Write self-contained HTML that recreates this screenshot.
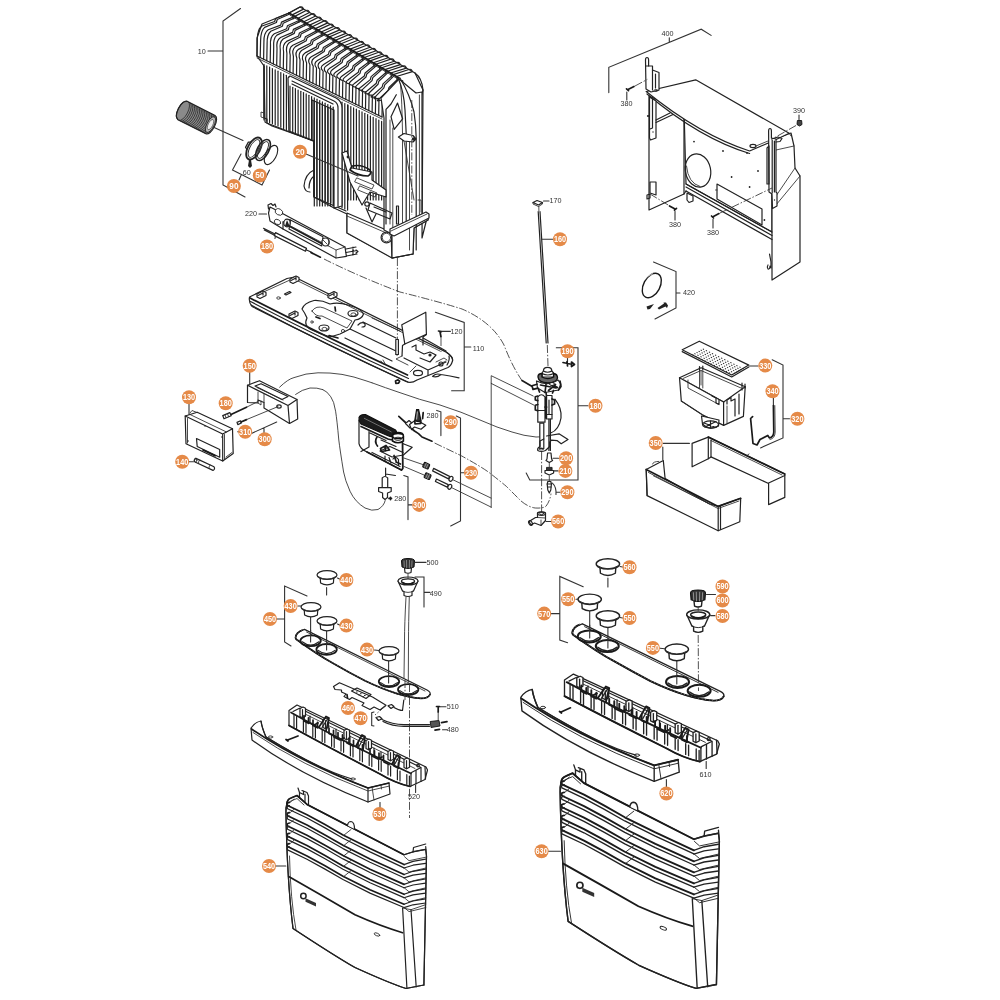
<!DOCTYPE html>
<html><head><meta charset="utf-8"><title>Exploded diagram</title>
<style>
html,body{margin:0;padding:0;background:#fff;}
body{width:1000px;height:1000px;overflow:hidden;font-family:"Liberation Sans",sans-serif;}
svg{display:block;filter:blur(0.3px)}
.l{fill:none;stroke:#222;stroke-width:1.2;stroke-linecap:round;stroke-linejoin:round}
.t{fill:none;stroke:#2a2a2a;stroke-width:0.85;stroke-linecap:round;stroke-linejoin:round}
.h{fill:none;stroke:#555;stroke-width:0.5;stroke-linecap:round;stroke-linejoin:round}
.k{fill:none;stroke:#1a1a1a;stroke-width:1.7;stroke-linecap:round;stroke-linejoin:round}
.w{fill:#fff;stroke:#222;stroke-width:1.2;stroke-linecap:round;stroke-linejoin:round}
.wt{fill:#fff;stroke:#2a2a2a;stroke-width:0.85;stroke-linecap:round;stroke-linejoin:round}
.d{fill:none;stroke:#333;stroke-width:0.85;stroke-dasharray:8 1.8 1.5 1.8}
.c{fill:none;stroke:#333;stroke-width:1.1;stroke-linecap:round}
.b{fill:#e58a48}
.bt{fill:#fff;font-family:"Liberation Sans",sans-serif;font-size:9px;text-anchor:middle;font-weight:bold}
.n{fill:#333;font-family:"Liberation Sans",sans-serif;font-size:7.2px;text-anchor:middle}
.f{fill:#222;stroke:none}
.g{fill:#888;stroke:none}
</style></head><body>
<svg width="1000" height="1000" viewBox="0 0 1000 1000">
<rect width="1000" height="1000" fill="#fff"/>
<!-- p_10_heat -->
<path class="w" d="M257.0 56.0 L257.0 38.0 L262.0 24.0 L289.0 13.0 L300.0 7.0 L415.0 73.0 L423.0 90.0 L422.0 238.0 L428.0 214.0 L428.0 220.0 L414.0 228.0 L413.0 254.0 L393.0 258.0 L347.0 233.0 L347.0 214.0 L334.0 208.0 L314.0 197.0 L314.0 141.0 L272.0 126.0 L265.0 122.0 L264.0 66.0 Z"/>
<path class="l" d="M289.0 13.0 L300.0 7.0 Q302.5 6.0 303.5 9.1 L292.2 14.9"/>
<path class="l" d="M294.8 16.4 L306.1 10.5 Q308.6 9.5 309.5 12.5 L298.0 18.3"/>
<path class="l" d="M300.6 19.8 L312.1 13.9 Q314.6 12.9 315.6 16.0 L303.8 21.7"/>
<path class="l" d="M306.4 23.3 L318.2 17.4 Q320.7 16.4 321.6 19.5 L309.6 25.1"/>
<path class="l" d="M312.2 26.7 L324.2 20.9 Q326.7 19.9 327.7 22.9 L315.3 28.6"/>
<path class="l" d="M317.9 30.1 L330.3 24.4 Q332.8 23.4 333.7 26.4 L321.1 32.0"/>
<path class="l" d="M323.7 33.5 L336.3 27.8 Q338.8 26.8 339.8 29.9 L326.9 35.4"/>
<path class="l" d="M329.5 36.9 L342.4 31.3 Q344.9 30.3 345.8 33.4 L332.7 38.8"/>
<path class="l" d="M335.3 40.4 L348.4 34.8 Q350.9 33.8 351.9 36.8 L338.5 42.2"/>
<path class="l" d="M341.1 43.8 L354.5 38.3 Q357.0 37.3 357.9 40.3 L344.3 45.7"/>
<path class="l" d="M346.9 47.2 L360.5 41.7 Q363.0 40.7 364.0 43.8 L350.1 49.1"/>
<path class="l" d="M352.7 50.6 L366.6 45.2 Q369.1 44.2 370.1 47.3 L355.9 52.5"/>
<path class="l" d="M358.5 54.1 L372.6 48.7 Q375.1 47.7 376.1 50.7 L361.7 55.9"/>
<path class="l" d="M364.3 57.5 L378.7 52.2 Q381.2 51.2 382.2 54.2 L367.4 59.4"/>
<path class="l" d="M370.1 60.9 L384.7 55.6 Q387.2 54.6 388.2 57.7 L373.2 62.8"/>
<path class="l" d="M375.8 64.3 L390.8 59.1 Q393.3 58.1 394.3 61.2 L379.0 66.2"/>
<path class="l" d="M381.6 67.7 L396.8 62.6 Q399.3 61.6 400.3 64.6 L384.8 69.6"/>
<path class="l" d="M387.4 71.2 L402.9 66.1 Q405.4 65.1 406.4 68.1 L390.6 73.0"/>
<path class="l" d="M393.2 74.6 L408.9 69.5 Q411.4 68.5 412.4 71.6 L396.4 76.5"/>
<path class="l" d="M415 73 Q422 78 423 90 L421 97 L416 93"/>
<path class="l" d="M289.0 13.0 L275.5 18.5 L274.7 21.5 L262.0 26.0 Q257.5 29.0 257.3 39.0 L257.0 56.0"/>
<path class="l" d="M290.3 13.8 L277.2 19.5 L276.4 22.5 L264.6 27.4 Q260.8 30.6 260.6 40.5 L260.2 57.5"/>
<path class="l" d="M292.6 15.6 l0.5 3.2"/>
<path class="l" d="M294.8 16.4 L281.5 22.1 L280.7 25.1 L268.2 29.8 Q263.7 32.8 263.9 42.2 L263.6 59.2"/>
<path class="l" d="M296.1 17.2 L283.2 23.2 L282.4 26.2 L270.8 31.3 Q266.9 34.5 267.1 43.7 L266.8 60.7"/>
<path class="l" d="M298.4 19.0 l0.5 3.2"/>
<path class="l" d="M300.6 19.8 L287.4 25.8 L286.6 28.8 L274.3 33.7 Q269.8 36.7 270.5 45.4 L270.2 62.4"/>
<path class="l" d="M301.9 20.6 L289.1 26.8 L288.3 29.8 L276.9 35.1 Q273.1 38.3 273.7 46.9 L273.4 63.9"/>
<path class="l" d="M304.2 22.4 l0.5 3.2"/>
<path class="l" d="M306.4 23.3 L293.4 29.4 L292.6 32.4 L280.5 37.5 Q276.0 40.5 277.0 48.6 L276.7 65.6"/>
<path class="l" d="M307.7 24.0 L295.1 30.4 L294.3 33.4 L283.1 39.0 Q279.2 42.2 280.3 50.1 L280.0 67.1"/>
<path class="l" d="M310.0 25.9 l0.5 3.2"/>
<path class="l" d="M312.2 26.7 L299.4 33.0 L298.6 36.0 L286.6 41.4 Q282.1 44.4 283.6 51.8 L283.3 68.8"/>
<path class="l" d="M313.5 27.5 L301.1 34.0 L300.3 37.0 L289.2 42.8 Q285.4 46.0 286.9 53.3 L286.6 70.3"/>
<path class="l" d="M315.8 29.3 l0.5 3.2"/>
<path class="l" d="M317.9 30.1 L305.4 36.7 L304.6 39.7 L292.8 45.2 Q288.3 48.2 290.2 55.1 L289.9 72.1"/>
<path class="l" d="M319.2 30.9 L307.1 37.7 L306.3 40.7 L295.4 46.6 Q291.5 49.8 293.4 56.5 L293.1 73.5"/>
<path class="l" d="M321.5 32.7 l0.5 3.2"/>
<path class="l" d="M323.7 33.5 L311.3 40.3 L310.5 43.3 L298.9 49.1 Q294.4 52.1 296.8 58.3 L296.5 75.3"/>
<path class="l" d="M325.0 34.3 L313.0 41.3 L312.2 44.3 L301.5 50.5 Q297.7 53.7 300.0 59.7 L299.7 76.7"/>
<path class="l" d="M327.3 36.1 l0.5 3.2"/>
<path class="l" d="M329.5 36.9 L317.3 43.9 L316.5 46.9 L305.1 52.9 Q300.6 55.9 303.4 61.5 L303.1 78.5"/>
<path class="l" d="M330.8 37.7 L319.0 44.9 L318.2 47.9 L307.7 54.3 Q303.9 57.5 306.6 62.9 L306.3 79.9"/>
<path class="l" d="M333.1 39.5 l0.5 3.2"/>
<path class="l" d="M335.3 40.4 L323.3 47.6 L322.5 50.6 L311.3 56.7 Q306.8 59.7 309.9 64.7 L309.6 81.7"/>
<path class="l" d="M336.6 41.1 L325.0 48.6 L324.2 51.6 L313.9 58.2 Q310.0 61.4 313.2 66.1 L312.9 83.1"/>
<path class="l" d="M338.9 43.0 l0.5 3.2"/>
<path class="l" d="M341.1 43.8 L329.3 51.2 L328.5 54.2 L317.4 60.6 Q312.9 63.6 316.5 67.9 L316.2 84.9"/>
<path class="l" d="M342.4 44.6 L331.0 52.2 L330.2 55.2 L320.0 62.0 Q316.2 65.2 319.8 69.4 L319.5 86.4"/>
<path class="l" d="M344.7 46.4 l0.5 3.2"/>
<path class="l" d="M346.9 47.2 L335.2 54.8 L334.4 57.8 L323.6 64.4 Q319.1 67.4 323.1 71.1 L322.8 88.1"/>
<path class="l" d="M348.2 48.0 L336.9 55.8 L336.1 58.8 L326.2 65.9 Q322.3 69.0 326.3 72.6 L326.0 89.6"/>
<path class="l" d="M350.5 49.8 l0.5 3.2"/>
<path class="l" d="M352.7 50.6 L341.2 58.4 L340.4 61.4 L329.7 68.3 Q325.2 71.3 329.7 74.3 L329.4 91.3"/>
<path class="l" d="M354.0 51.4 L342.9 59.5 L342.1 62.5 L332.3 69.7 Q328.5 72.9 332.9 75.8 L332.6 92.8"/>
<path class="l" d="M356.3 53.2 l0.5 3.2"/>
<path class="l" d="M358.5 54.1 L347.2 62.1 L346.4 65.1 L335.9 72.1 Q331.4 75.1 336.2 77.5 L335.9 94.5"/>
<path class="l" d="M359.8 54.8 L348.9 63.1 L348.1 66.1 L338.5 73.5 Q334.6 76.7 339.5 79.0 L339.2 96.0"/>
<path class="l" d="M362.1 56.7 l0.5 3.2"/>
<path class="l" d="M364.3 57.5 L353.2 65.7 L352.4 68.7 L342.1 75.9 Q337.6 78.9 342.8 80.7 L342.5 97.7"/>
<path class="l" d="M365.6 58.3 L354.9 66.7 L354.1 69.7 L344.7 77.4 Q340.8 80.6 346.1 82.2 L345.8 99.2"/>
<path class="l" d="M367.9 60.1 l0.5 3.2"/>
<path class="l" d="M370.1 60.9 L359.1 69.3 L358.3 72.3 L348.2 79.8 Q343.7 82.8 349.4 83.9 L349.1 100.9"/>
<path class="l" d="M371.4 61.7 L360.8 70.4 L360.0 73.4 L350.8 81.2 Q347.0 84.4 352.7 85.4 L352.4 102.4"/>
<path class="l" d="M373.7 63.5 l0.5 3.2"/>
<path class="l" d="M375.8 64.3 L365.1 73.0 L364.3 76.0 L354.4 83.6 Q349.9 86.6 356.0 87.2 L355.7 104.2"/>
<path class="l" d="M377.1 65.1 L366.8 74.0 L366.0 77.0 L357.0 85.1 Q353.1 88.3 359.2 88.6 L358.9 105.6"/>
<path class="l" d="M379.4 66.9 l0.5 3.2"/>
<path class="l" d="M381.6 67.7 L371.1 76.6 L370.3 79.6 L360.5 87.5 Q356.0 90.5 362.6 90.4 L362.3 107.4"/>
<path class="l" d="M382.9 68.5 L372.8 77.6 L372.0 80.6 L363.1 88.9 Q359.3 92.1 365.8 91.8 L365.5 108.8"/>
<path class="l" d="M385.2 70.3 l0.5 3.2"/>
<path class="l" d="M387.4 71.2 L377.1 80.2 L376.3 83.2 L366.7 91.3 Q362.2 94.3 369.1 93.6 L368.8 110.6"/>
<path class="l" d="M388.7 71.9 L378.8 81.3 L378.0 84.3 L369.3 92.7 Q365.4 95.9 372.4 95.0 L372.1 112.0"/>
<path class="l" d="M391.0 73.8 l0.5 3.2"/>
<path class="l" d="M393.2 74.6 L383.0 83.9 L382.2 86.9 L372.8 95.2 Q368.3 98.2 375.7 96.8 L375.4 113.8"/>
<path class="l" d="M394.5 75.4 L384.7 84.9 L383.9 87.9 L375.4 96.6 Q371.6 99.8 379.0 98.3 L378.7 115.3"/>
<path class="l" d="M396.8 77.2 l0.5 3.2"/>
<path class="l" d="M399.0 78.0 L389.0 87.5 L388.2 90.5 L379.0 99.0 Q374.5 102.0 382.3 100.0 L382.0 117.0"/>
<path class="l" d="M402.6 80.6 l0.5 3.2"/>
<path class="k" d="M289.0 13.0 L399.0 78.0"/>
<path class="t" d="M290.0 15.2 L400.0 80.2"/>
<path class="l" d="M257.0 56.0 L382.0 117.0"/>
<path class="t" d="M257.0 58.0 L382.0 119.0"/>
<path class="l" d="M264.0 64.4 L264.0 120.0"/>
<path class="l" d="M266.8 65.8 L266.8 121.2"/>
<path class="l" d="M269.6 67.1 L269.6 122.4"/>
<path class="l" d="M272.4 68.5 L272.4 123.6"/>
<path class="l" d="M275.2 69.8 L275.2 124.8"/>
<path class="l" d="M278.0 71.2 L278.0 126.0"/>
<path class="l" d="M280.8 72.5 L280.8 127.2"/>
<path class="l" d="M283.6 73.9 L283.6 128.4"/>
<path class="l" d="M286.4 75.3 L286.4 129.6"/>
<path class="l" d="M289.2 76.6 L289.2 130.8"/>
<path class="l" d="M292.0 78.0 L292.0 132.0"/>
<path class="l" d="M294.8 79.3 L294.8 133.2"/>
<path class="l" d="M297.6 80.7 L297.6 134.4"/>
<path class="l" d="M300.4 82.0 L300.4 135.7"/>
<path class="l" d="M303.2 83.4 L303.2 136.9"/>
<path class="l" d="M306.0 84.8 L306.0 138.1"/>
<path class="l" d="M308.8 86.1 L308.8 139.3"/>
<path class="l" d="M311.6 87.5 L311.6 140.5"/>
<path class="l" d="M264.0 66.0 L264.0 118.0 L267.0 119.0 L267.0 123.0 L272.0 125.0 L313.0 141.0"/>
<path class="t" d="M264.0 113.0 L261.0 112.0 L261.0 117.0 L264.0 118.0"/>
<path class="l" d="M314.0 88.6 L314.0 196.0"/>
<path class="l" d="M316.8 90.0 L316.8 197.2"/>
<path class="l" d="M319.6 91.4 L319.6 198.4"/>
<path class="l" d="M322.4 92.7 L322.4 199.5"/>
<path class="l" d="M325.2 94.1 L325.2 200.7"/>
<path class="l" d="M328.0 95.4 L328.0 201.9"/>
<path class="l" d="M330.8 96.8 L330.8 203.1"/>
<path class="l" d="M333.6 98.2 L333.6 204.2"/>
<path class="l" d="M336.4 99.5 L336.4 205.4"/>
<path class="l" d="M339.2 100.9 L339.2 206.6"/>
<path class="l" d="M342.0 102.2 L342.0 207.8"/>
<path class="l" d="M344.8 103.6 L344.8 208.9"/>
<path class="l" d="M347.6 104.9 L347.6 210.1"/>
<path class="l" d="M314.0 140.0 L314.0 197.0 L346.0 211.0"/>
<path class="l" d="M348.0 105.1 L348.0 200.0"/>
<path class="l" d="M350.8 106.5 L350.8 200.0"/>
<path class="l" d="M353.6 107.9 L353.6 200.0"/>
<path class="l" d="M356.4 109.2 L356.4 200.0"/>
<path class="l" d="M359.2 110.6 L359.2 200.0"/>
<path class="l" d="M362.0 111.9 L362.0 200.0"/>
<path class="l" d="M364.8 113.3 L364.8 200.0"/>
<path class="l" d="M367.6 114.6 L367.6 200.0"/>
<path class="l" d="M370.4 116.0 L370.4 200.0"/>
<path class="l" d="M373.2 117.4 L373.2 200.0"/>
<path class="l" d="M376.0 118.7 L376.0 200.0"/>
<path class="l" d="M378.8 120.1 L378.8 200.0"/>
<path class="l" d="M381.6 121.4 L381.6 200.0"/>
<path class="l" d="M384.4 122.8 L384.4 200.0"/>
<path class="w" d="M288 78 L290 76 L336 98 Q342 101 342 108 L342 206 L334 208 L334 110 L312 100 L312 140 L289 131 Z"/>
<path class="l" d="M290.0 86.0 L290.0 131.4"/>
<path class="l" d="M292.7 87.3 L292.7 132.5"/>
<path class="l" d="M295.4 88.6 L295.4 133.6"/>
<path class="l" d="M298.1 90.0 L298.1 134.6"/>
<path class="l" d="M300.8 91.3 L300.8 135.7"/>
<path class="l" d="M303.5 92.6 L303.5 136.8"/>
<path class="l" d="M306.2 93.9 L306.2 137.9"/>
<path class="l" d="M308.9 95.3 L308.9 139.0"/>
<path class="l" d="M311.6 96.6 L311.6 140.0"/>
<path class="l" d="M314.3 97.9 L314.3 206.0"/>
<path class="l" d="M317.0 99.2 L317.0 206.0"/>
<path class="l" d="M319.7 100.6 L319.7 206.0"/>
<path class="l" d="M322.4 101.9 L322.4 206.0"/>
<path class="l" d="M325.1 103.2 L325.1 206.0"/>
<path class="l" d="M327.8 104.5 L327.8 206.0"/>
<path class="l" d="M330.5 105.8 L330.5 206.0"/>
<path class="l" d="M333.2 107.2 L333.2 206.0"/>
<path class="l" d="M292 81 L334 101 Q338 103 338 108 L338 206"/>
<path class="l" d="M292 84 L333 104"/>
<path class="w" d="M347 213 L391 232 L392 258 L347 233 Z"/>
<path class="t" d="M347 216 L391 235"/>
<circle class="w" cx="386.5" cy="237.5" r="5.4"/><circle class="t" cx="386.5" cy="237.5" r="4.2"/>
<path class="l" d="M314 170 Q305 174 304 186 Q305 192 310 192 M314 176 Q309 180 309 188"/>
<path class="w" d="M384 118 L384 230 L392 234 L392 258 L413 254 L414 228 L428 220 L428 214 L422 216 L422 92 L416 93 L399 79 L381 98 Z"/>
<path class="l" d="M398.4 78.4 Q404 92 405 110 L406.2 133.5 L406.2 228"/>
<path class="t" d="M400.5 84 Q402 100 402.5 133 L402.5 228"/>
<path class="l" d="M400 78 Q410 95 414 112 Q416 125 416.2 137.7 L416.2 250"/>
<path class="t" d="M419.4 95 L419.4 218 M409.5 140 L409.5 250"/>
<path class="l" d="M391 116.7 L397.5 103 L402.6 118.8 L394.2 129.3 Z"/>
<path class="l" d="M396.3 94.7 L391 104 L386 109.4 L386 224"/>
<path class="t" d="M390 120 L390 224 M392.8 128 L392.8 228"/>
<path class="w" d="M398.4 137 L404 133.5 L413 135.5 L416 139 L413 142 L404 141 Z" stroke-width="1.4"/>
<circle class="f" cx="413.5" cy="139" r="1.7"/>
<path class="d" d="M411.8 100 L411.8 215"/>
<path class="t" d="M404 141 L414 200"/>
<path class="w" d="M390 229 L426 212 L429 214 L429 218 L394 236 L390 234 Z"/>
<path class="t" d="M391 231 L427 214"/>
<path class="w" d="M396.5 206 L398.5 206 L398.5 224 L396.5 224 Z"/>
<path class="t" d="M418 200 L421 200 L421 212"/>
<path class="l" d="M392 258 L413 254"/>
<path class="w" d="M342 153 L347 151 L352 168 L372 172 L372 180 L386 190 L386 197 L370 192 L362 205 L350 182 Z"/>
<path class="k" d="M352 166 Q362 164 370 170 Q372 174 368 176 Q358 176 350 170 Z"/>
<path class="t" d="M357 178 L374 185 L372 189 L355 182 Z M360 186 L377 193 L375 197 L358 190 Z"/>
<circle class="f" cx="348" cy="157" r="1.4"/>
<path class="l" d="M370 203 L392 213 L390 219 L368 210 Z M374 207 L386 212"/>
<circle class="l" cx="367" cy="204" r="2.2"/>
<path class="l" d="M366 208 L372 222 L376 214"/>
<path class="c" d="M306.0 154.0 L358.0 176.0"/>
<!-- p_20_small -->
<path class="c" d="M240.5 8.5 L223 21 L223 185 L245 197 M208 51 L223 51"/>
<g transform="translate(182.5 110.5) rotate(26.7285)">
<path d="M0 -10.3 L31.3498 -10.3 A4.5 10.3 0 0 1 31.3498 10.3 L0 10.3 A4.5 10.3 0 0 1 0 -10.3 Z" fill="#8a8a8a" stroke="#222" stroke-width="1.1"/>
<path d="M1 -10.3 A4.5 10.3 0 0 1 1 10.3" fill="none" stroke="#222" stroke-width="0.7"/>
<path d="M2.9 -10.3 A4.5 10.3 0 0 1 2.9 10.3" fill="none" stroke="#222" stroke-width="0.7"/>
<path d="M4.8 -10.3 A4.5 10.3 0 0 1 4.8 10.3" fill="none" stroke="#222" stroke-width="0.7"/>
<path d="M6.7 -10.3 A4.5 10.3 0 0 1 6.7 10.3" fill="none" stroke="#222" stroke-width="0.7"/>
<path d="M8.6 -10.3 A4.5 10.3 0 0 1 8.6 10.3" fill="none" stroke="#222" stroke-width="0.7"/>
<path d="M10.5 -10.3 A4.5 10.3 0 0 1 10.5 10.3" fill="none" stroke="#222" stroke-width="0.7"/>
<path d="M12.4 -10.3 A4.5 10.3 0 0 1 12.4 10.3" fill="none" stroke="#222" stroke-width="0.7"/>
<path d="M14.3 -10.3 A4.5 10.3 0 0 1 14.3 10.3" fill="none" stroke="#222" stroke-width="0.7"/>
<path d="M16.2 -10.3 A4.5 10.3 0 0 1 16.2 10.3" fill="none" stroke="#222" stroke-width="0.7"/>
<path d="M18.1 -10.3 A4.5 10.3 0 0 1 18.1 10.3" fill="none" stroke="#222" stroke-width="0.7"/>
<path d="M20 -10.3 A4.5 10.3 0 0 1 20 10.3" fill="none" stroke="#222" stroke-width="0.7"/>
<path d="M21.9 -10.3 A4.5 10.3 0 0 1 21.9 10.3" fill="none" stroke="#222" stroke-width="0.7"/>
<path d="M23.8 -10.3 A4.5 10.3 0 0 1 23.8 10.3" fill="none" stroke="#222" stroke-width="0.7"/>
<path d="M25.7 -10.3 A4.5 10.3 0 0 1 25.7 10.3" fill="none" stroke="#222" stroke-width="0.7"/>
<path d="M27.6 -10.3 A4.5 10.3 0 0 1 27.6 10.3" fill="none" stroke="#222" stroke-width="0.7"/>
<path d="M29.5 -10.3 A4.5 10.3 0 0 1 29.5 10.3" fill="none" stroke="#222" stroke-width="0.7"/>
<ellipse cx="31.3498" cy="0" rx="3.6" ry="8.6" fill="#bbb" stroke="#222" stroke-width="0.8"/>
<ellipse cx="31.3498" cy="0" rx="2.3" ry="5.6" fill="#eee" stroke="#333" stroke-width="0.6"/>
<path d="M-3 -8 A4.5 10.3 0 0 0 -3 8 L0 10.3 M-3 -8 L0 -10.3" fill="none" stroke="#222" stroke-width="1"/>
</g>
<path class="c" d="M213 127 L243 140.5"/>
<g transform="translate(254 148.5) rotate(28)"><ellipse rx="6.2" ry="12" fill="none" stroke="#222" stroke-width="1.8"/><ellipse rx="4.2" ry="9.8" fill="none" stroke="#222" stroke-width="0.9"/><path d="M-6 -4 L-8 -3 L-8 3 L-6 4" class="l"/></g>
<g transform="translate(263 150) rotate(28)"><ellipse rx="5.8" ry="11.5" fill="none" stroke="#222" stroke-width="1.6"/><ellipse rx="3.8" ry="9.3" fill="none" stroke="#222" stroke-width="0.9"/><path d="M-4 -6 L-4 6 M-3 -7 L-3 7" class="h"/></g>
<g transform="translate(271 155) rotate(28)"><ellipse rx="5.2" ry="10.5" fill="none" stroke="#222" stroke-width="1.1"/></g>
<path class="f" d="M249 160 L251 160 L252 166 L250 168 L248 166 Z"/>
<path class="c" d="M241 154 L232.5 170 L262 185 L269.5 170 M241 175.5 L239 180"/>
<!-- p_21_igniter -->
<path class="w" d="M275 209.5 L345 247 L346.4 256.3 L336 258 L283 229 L270 221 L268.5 213 L270 207 Z"/>
<path class="l" d="M283 229 L283 222 L290 219.5 M290.5 220 L323 236.8 L321.7 246 L289 229 Z"/>
<path class="k" d="M290 226.5 L321.5 243.5"/>
<path class="t" d="M336 258 L336 250 L345 247 M283 222 L336 250"/>
<path class="l" d="M268 205 L271 203.5 L273 205.5 L275 204 L276 207 M268 205 L268.5 209"/>
<ellipse class="wt" cx="279" cy="212" rx="4" ry="3" transform="rotate(28 279 212)"/>
<ellipse class="wt" cx="277.5" cy="222" rx="3.4" ry="2.4" transform="rotate(28 277.5 222)"/>
<ellipse class="w" cx="287" cy="223" rx="3.2" ry="3.8"/>
<path class="f" d="M287 220 L290 227 L285 226 Z"/>
<ellipse class="w" cx="325.5" cy="242" rx="3.5" ry="4"/>
<path class="t" d="M323 240 L327 244 M328 239 Q331 242 328 246"/>
<path class="l" d="M346 249 L356 247 M346 252.5 L357 250.5 M346.4 256 L357 254 M353 247 L353 255 M356 250 L358 251.5 L356 253"/>
<path class="l" d="M263.5 228.3 L275 234 M264.3 230 L274.5 235.2"/>
<path class="w" d="M275.5 232.6 L306.5 248.4 L305.5 251.2 L274.3 235.6 Z"/>
<path class="l" d="M306 249.8 L311 252 L312.5 253.5"/>
<path class="k" d="M311 252.6 L320.4 257.2"/>
<path class="c" d="M275 238.5 L275.5 236"/>
<path class="c" d="M259 214 L266.5 214"/>
<!-- p_30_base -->
<path class="w" d="M249.5 297 L287 278.5 L294.5 277 L446.8 352.4 Q453.5 357 452.5 361 Q451 366 448 367.5 L417 380 Q411 384 406 381.5 Q330 346 252 306.5 Q248.5 302 249.5 297 Z"/>
<path class="k" d="M250 298 Q330 339 407.5 375"/>
<path class="l" d="M250.5 301.5 Q330 343 408.5 378.5"/>
<path class="l" d="M251 305 Q330 347 408 382"/>
<path class="t" d="M258 294.5 L290 280 M297 280.5 L440 351"/>
<path class="w" d="M290 279 l6 -3 l3 1.5 l0 3 l-6 3 l-3 -1.5 Z"/>
<path class="l" d="M291 280.5 l5 -2.5 M296 277 l0 3"/>
<path class="w" d="M257 294 l6 -3 l3 1.5 l0 3 l-6 3 l-3 -1.5 Z"/>
<path class="l" d="M258 295.5 l5 -2.5 M263 292 l0 3"/>
<path class="w" d="M328 294.5 l6 -3 l3 1.5 l0 3 l-6 3 l-3 -1.5 Z"/>
<path class="l" d="M329 296 l5 -2.5 M334 292.5 l0 3"/>
<path class="w" d="M289 314 l6 -3 l3 1.5 l0 3 l-6 3 l-3 -1.5 Z"/>
<path class="l" d="M290 315.5 l5 -2.5 M295 312 l0 3"/>
<path class="l" d="M284.5 294 l5 -2.5 l1.5 1 l-5 2.5 Z"/><ellipse class="t" cx="278.5" cy="298" rx="1.8" ry="1.2"/>
<path class="l" d="M302 309 Q304 303 314 300.5 Q322 300 330 304 Q338 302 348 305 Q362 309 363.5 314 Q362 319 355 320 L350 329 L340 334 L330 337 Q320 334 312 330 Q303 326 307 318 Q305 313 302 309 Z"/>
<path class="t" d="M312 311 Q316 305 324 308 L352 321 L347 328 L322 316 Q316 317 312 311 Z"/>
<ellipse class="l" cx="353" cy="313.5" rx="5" ry="3"/><ellipse class="t" cx="353.5" cy="314.5" rx="2.6" ry="1.6"/>
<ellipse class="l" cx="324" cy="328" rx="5" ry="3"/><ellipse class="t" cx="324.5" cy="329" rx="2.6" ry="1.6"/>
<path class="l" d="M358 325 Q362 321 365 324 Q366 327 362 327"/>
<circle class="t" cx="343" cy="331" r="1.6"/><circle class="t" cx="312" cy="322" r="1.2"/>
<path class="k" d="M329 335.5 L338 338 M316 317 L320 318.5 M335 307 L335.5 311"/>
<path class="l" d="M350 329 L398 352 M345 338 L392 361 M363 322 L396 338"/>
<path class="t" d="M372 318 L400 331"/>
<path class="d" d="M397.4 258 L397.4 339"/>
<path class="w" d="M401.8 324.8 L425.8 312.2 L426.4 334.4 L404.8 344 Z"/>
<path class="l" d="M404.8 344 L402.5 345.5 L402 356 M426.4 334.4 L423 337 L423 345"/>
<path class="w" d="M395.8 339.5 L398.4 339.5 L398.4 354.5 L395.8 354.5 Z"/>
<path class="t" d="M395.8 354.5 Q397 356.5 398.4 354.5"/>
<path class="l" d="M423 338 L446 351 M412 347 L416 345 L416 350 L424 354 L430 352 L436 355 L430 362 L420 358 M404 358 L428 370 L446 362 M428 370 L428 375"/>
<path class="t" d="M402 356 L396 359 L408 365 M416 366 L410 372 M436 362 L444 358 L447 360 M440 364 L446 361"/>
<circle class="f" cx="430" cy="355" r="1.6"/><circle class="l" cx="441" cy="364" r="2"/>
<ellipse class="l" cx="418" cy="373" rx="4.5" ry="2.6"/>
<path class="l" d="M446.8 352.4 Q453.5 357 452.5 361 M449 356 Q450 360 447 365"/>
<path class="t" d="M381 361 l2 3 M383 360 l2 3.5"/>
<path class="k" d="M395.5 381 l2.5 -1.2 l1.6 1.4 l-1.2 2 l-2.5 0.2 Z"/>
<path class="l" d="M433 376 Q436 373 441 374.5 Q437 378 432.5 376.5 M441 374.5 Q450 376 459 377.8"/>
<path class="k" d="M438.5 331 L441.5 331.6 M440 331.5 L441 337"/>
<path class="d" d="M441 338 L441 352"/>
<path class="c" d="M442 331.4 L450.4 331.4"/>
<path class="c" d="M435.4 312.2 L464.2 322.4 L464.2 390.8 L451.6 390.8 M464.2 347 L470.8 347"/>
<!-- p_40_ctrl -->
<path class="w" d="M247.5 385.2 L259.5 380.7 L297 399.5 L297.7 419 L289.5 423.5 L264 408 L264 402.5 L258 400 L258 403 L247.5 402.5 Z"/>
<path class="l" d="M247.5 385.2 L288 405.5 L297 399.5 M288 405.5 L289.5 423.5"/>
<path class="l" d="M255 386 L261 383.7 L288 396.5 L282 399.5 Z"/>
<path class="t" d="M257 387.5 L283 400 M264 402.5 L264 394 M258 400 L258 392"/>
<ellipse class="l" cx="279" cy="406.5" rx="2.2" ry="1.6"/>
<path class="t" d="M258 403 L261 405 L261 401"/>
<path class="c" d="M249.7 372 L249.7 385"/>
<path class="w" d="M185.2 416 L197.2 412.2 L232.5 428.7 L233.2 453.5 L222.7 461 L186 443.7 Z"/>
<path class="l" d="M185.2 416 L222.7 434 L232.5 428.7 M222.7 434 L222.7 461"/>
<path class="t" d="M190 414.5 L226.5 432 M187.5 418.5 L187.5 443 M224.5 434.5 L224.5 459.5"/>
<path class="l" d="M196.5 438.5 L219.7 449.5 L219.7 457.2 L197.2 446.5 Z"/>
<path class="k" d="M203 450 L215 455.8"/>
<path class="t" d="M190 413 L192 410.5 L197 412.5 M226 457 L232 452.5"/>
<circle class="f" cx="222" cy="437" r="0.8"/><circle class="f" cx="188" cy="441" r="0.8"/><circle class="f" cx="205" cy="426" r="0.7"/>
<path class="c" d="M189 403 L189 414.5"/>
<path class="w" d="M196 458.4 L214 466.8 Q215.5 469 213 470.4 L195 462 Q193 460 196 458.4 Z"/>
<path class="t" d="M199.5 460 Q198 462 198.5 463.6 M210 465 Q208.5 467 209 468.6"/>
<ellipse class="t" cx="195.6" cy="460.2" rx="1.3" ry="1.9"/>
<path class="c" d="M188 461.7 L193.5 461.7"/>
<path class="k" d="M231 414.5 L246.5 407.2" stroke-width="2.2"/>
<path class="w" d="M222.7 415.6 L229.8 412.6 L231.2 415.8 L224 418.8 Z"/>
<path class="t" d="M225 414.8 L226 417.6 M227.5 413.8 L228.6 416.6"/>
<path class="t" d="M247 407 L258 401.5"/>
<path class="w" d="M237 422.4 L240.6 420.8 L241.4 423 L237.8 424.6 Z"/>
<path class="k" d="M241 422 L246.5 419.6" stroke-width="2.4"/>
<path class="t" d="M246.5 419.6 L278 406.6"/>
<path class="c" d="M252 433.2 L276.7 422 M264 428.2 L264 433 M237.7 431.7 L239.5 431.7"/>
<path class="t" d="M279.6 387.2 Q288 379 294 377.6 Q306 373 318 372.8 Q330 372.5 342 374.4 Q354 376.5 366 380.8 L372 382.8"/>
<path class="t" d="M295.6 394.4 Q302 389.5 310 388 Q317 387.5 322.8 389.6"/>
<!-- p_50_burner -->
<path class="w" d="M359 420 L359 443.7 Q360 449 367 452 L401.4 470 L402.6 468.5 L402.4 438 L394 431 Z" stroke-width="1.4"/>
<path d="M359 417.6 Q360 414 365.5 414.6 L395.5 430 Q398 433 394.5 436 Q391.5 437.3 388 435.8 L361 424 Q358.5 421 359 417.6 Z" fill="#1c1c1c" stroke="#111" stroke-width="1.2"/>
<path d="M364 418.2 L391.5 432" stroke="#777" stroke-width="0.9" fill="none"/>
<path class="k" d="M361 426.5 L388 439 Q392 440.5 394 439" stroke-width="1.5"/>
<path class="l" d="M369 431.5 L369 447 M369 447 L361 451.5 M370 433 L386 440.5"/>
<path d="M392.5 436 Q392.5 432.5 398 432.5 Q403.4 432.5 403.4 436 L403.4 441 Q398 444.5 392.5 441 Z" fill="#fff" stroke="#111" stroke-width="1.6"/>
<ellipse cx="398" cy="436" rx="5.4" ry="2.6" fill="#fff" stroke="#111" stroke-width="1.5"/>
<ellipse cx="398" cy="438.8" rx="3.6" ry="1.6" fill="none" stroke="#222" stroke-width="0.9"/>
<path class="w" d="M403.2 443.7 L412.2 447.3 L403.4 455 L392 457 L380 451 L390 446.5 L403 452.5"/>
<path class="k" d="M377 437 Q374 441.5 377.5 446 M380.5 448.5 L386 445.5 L389.5 450 L381.5 451.5 Z M385 446 L385.5 451" stroke-width="1.5"/>
<path class="l" d="M381 440 L396 446.5 M372 452.5 L400 466.5 M389 457.5 L391 463 M393 459 Q395.5 455.5 398.5 459.5 L398.5 465 M385 456 L385 461.5"/>
<path class="k" d="M401.6 470 L402.8 468.5 L402.6 443" stroke-width="1.7"/>
<path class="k" d="M367 452 L401.4 470" stroke-width="1.6"/>
<path class="k" d="M396 462 L400.5 464 M394 455.5 L396 461" stroke-width="1.4"/>
<path class="t" d="M403.8 458 L423 464.6 M403.8 466.4 L424 475"/>
<g transform="translate(426.2 465.7) rotate(25)"><rect x="-3" y="-2.6" width="6" height="5.2" rx="1" fill="#444" stroke="#111" stroke-width="1"/><path d="M-1 -2.6 L-1 2.6 M1 -2.6 L1 2.6" stroke="#ccc" stroke-width="0.5"/></g>
<g transform="translate(427.6 476.2) rotate(25)"><rect x="-3" y="-2.6" width="6" height="5.2" rx="1" fill="#444" stroke="#111" stroke-width="1"/><path d="M-1 -2.6 L-1 2.6 M1 -2.6 L1 2.6" stroke="#ccc" stroke-width="0.5"/></g>
<path class="w" d="M433.6 468.4 L449.5 476.4 L448.5 478.9 L432.6 470.9 Z"/>
<ellipse class="w" cx="451" cy="478.8" rx="1.8" ry="2.6" transform="rotate(25 451 478.8)"/>
<path class="w" d="M436.4 479 L448.2 484.6 L447.2 487.1 L435.4 481.5 Z"/>
<ellipse class="w" cx="449.8" cy="486.8" rx="1.8" ry="2.6" transform="rotate(25 449.8 486.8)"/>
<path class="t" d="M453 479.8 L491.1 498.1 M451.6 487.6 L491.1 507.1"/>
<path class="k" d="M398.8 416.4 L406 423" stroke-width="2.2"/>
<path class="w" d="M405.5 423.5 L409 420.5 L413.5 424.5 L410 428 Z" stroke-width="1.5"/>
<path class="w" d="M409.5 424.5 L416 419.8 L425.8 425.3 L421 429.3 L414.5 427 L411.5 429.5 Z" stroke-width="1.4"/>
<path d="M416.6 409.6 L418.6 409.6 L420.8 420 Q418 422.5 414.8 420.5 Z" fill="#333" stroke="#111" stroke-width="1.2"/>
<path d="M417.4 411.5 L416.6 419.5" stroke="#ddd" stroke-width="0.8" fill="none"/>
<path class="k" d="M414.8 421 L415 424 L420.8 423.4 L420.8 420.4" stroke-width="1.5"/>
<path class="k" d="M423.2 412.6 L422.6 418.6" stroke-width="2.4"/>
<path class="k" d="M412 429 L414.5 431 L418.5 433.6 L422 437 L432 441.2" stroke-width="2"/>
<path class="d" d="M434.6 443 L461.4 455.8 Q480 466 488.4 472 Q500 481 506.4 486.4 Q514 494 520.8 500.8 Q528 507 535.2 508 Q543 508.5 546 506.2 Q550 501 551 493.6"/>
<path class="c" d="M436.7 410.4 L440.9 411.8 L440.9 435.6"/>
<path class="c" d="M456.3 416 L460.5 418.1 L460.5 521 L450.7 525.9 M460.5 472.7 L464 472.7"/>
<path class="l" d="M385.6 468 L385.6 476 M385.6 474 L395.4 475.5"/>
<path class="w" d="M382.2 478 Q384.9 475 387.7 478 L387.7 489 L382.2 489 Z"/>
<path class="w" d="M378.6 487.6 L391.2 487.6 L391.2 491.5 L387.5 493 L387.5 497.5 L385 499.5 L382.6 497.5 L382.6 493 L378.6 491.5 Z"/>
<path class="k" d="M389 498.4 L391.5 498.4 M390.5 497.4 L390.5 499.6"/>
<path class="c" d="M403.8 475.5 L408 476.9 L408 519.6 M408 504.9 L412 504.9"/>
<path class="t" d="M385.2 500.5 Q384 506 378 509.5 Q372 511.5 365 508 Q355 502 350 491.2 Q345 480 343.6 472 Q340 450 338.8 440 Q337 420 335.6 411.2 Q334 401 330.8 396.8 Q327 391 322.8 389.6"/>
<!-- p_60_valve -->
<path class="t" d="M491.2 507.5 L491.2 375.7 L533.2 396 M491.2 383.4 L533.9 405.1"/>
<path class="d" d="M324 259 Q360 277 400 292 Q440 302 462 309 Q492 322 504 345 Q512 366 522 380.6"/>
<path class="k" d="M522 380.6 L531.8 386.2"/>
<path class="t" d="M372 382.8 Q386 388 398 392 Q420 400 440 405 Q462 412 480 420 Q498 428 512 432 Q524 436 536 437 L541.6 436.8"/>
<path class="w" d="M533 202.5 L537 200.5 L542.5 202.5 L538.5 205 Z"/><path class="t" d="M533 202.5 L533 204 L538.5 206.5 L542.5 204 L542.5 202.5"/>
<path class="c" d="M543.5 201 L549 201"/>
<path class="l" d="M538.2 211.5 L546.2 343 M540 211.5 L548 343" stroke-width="1"/>
<path class="d" d="M538.8 206 L538.9 211 M547.3 345 L548 366"/>
<path class="c" d="M541.5 239.3 L553 239.3"/>
<path class="w" d="M543.4 371 Q543.4 367.4 547.6 367.4 Q551.8 367.4 551.8 371 L553.6 373 L553.6 377 L542 377 L542 373 Z" stroke-width="1.4"/>
<path class="l" d="M543.4 371 Q547.6 373.5 551.8 371 M542 373.5 Q547.8 376.5 553.6 373.5"/>
<path d="M538 377 Q538 373.5 542 373.5 L542 377 Q547.8 380 553.6 377 L553.6 373.5 Q557.5 374 557.5 378 Q557 382.5 547.8 383 Q538.5 382.5 538 377 Z" fill="#666" stroke="#111" stroke-width="1.4"/>
<path class="w" d="M536.5 381 L537.5 388 L545 392.5 L558.5 390 L560.8 384 L558 380 Q548 386.5 536.5 381 Z" stroke-width="1.5"/>
<path class="k" d="M540.5 385 L556 388 M545 392.5 L546 384.5 M550 383.5 L557.5 387.5 M548.5 390.5 L555.5 384.5 M560 381 L561 386.5 L558.5 390" stroke-width="1.5"/>
<ellipse cx="552" cy="384" rx="2.4" ry="1.5" fill="#fff" stroke="#111" stroke-width="1"/>
<path class="k" d="M537 384.2 L532 385.8 L533 389.4 L538 388.2" stroke-width="1.8"/>
<path class="k" d="M539.5 392 L538.5 389.5 M552.5 393 L553.5 390.5 M546 392.5 L546.5 396" stroke-width="1.5"/>
<path class="w" d="M537.8 397 Q541.4 392.5 545 397 L545 422.2 L537.8 422.2 Z" stroke-width="1.5"/>
<path class="w" d="M546.6 395.5 L552 395.5 L552 419 L546.6 419 Z" stroke-width="1.5"/>
<path class="k" d="M537.8 396 L535.3 396.8 L535.3 400 L537.8 400.6 M537.8 404.5 L535.3 405.2 L535.3 410 L537.8 410.6 M545 407 L546.6 407 M552 399 L554.6 400 L554.6 404 L552 405" stroke-width="1.6"/>
<path class="l" d="M537.8 410.5 L545 410.5 M546.6 414.5 L552 414.5 M549 400 L549 414"/>
<path class="k" d="M545.8 397 L545.8 418" stroke-width="1.6"/>
<path class="w" d="M539.8 423.2 L543.8 423.2 L543.8 448.5 L539.8 448.5 Z" stroke-width="1.3"/>
<path class="l" d="M548.9 419 L548.9 450.5 M550.4 419 L550.4 450.5"/>
<path class="l" d="M554.9 399.1 Q562 408 561 418 Q559 430 550.7 433" stroke-width="0.9"/>
<path class="l" d="M546.5 436 L559 433.8 L568 439.6 L561.2 443.8 L557 440.6 L551.4 440.1 L549.7 442.2 L549.7 446.5 L545.5 450.5 Q541 452.5 537.8 450.5 Q537 448 540 446.5 L540 441 L543.8 439" stroke-width="1.3"/>
<ellipse class="t" cx="541.3" cy="449" rx="2.2" ry="1"/>
<path class="w" d="M547.6 453 L551 453 L551.6 459 L552.6 460.5 L549.3 462.5 L546 460.5 L547 459 Z"/>
<path class="c" d="M553 458.3 L558.5 458.3"/>
<path d="M546.5 467.4 L552.1 467.4 L552.1 470.5 L546.5 470.5 Z" fill="#333" stroke="#111" stroke-width="0.8"/>
<path class="w" d="M545 470.5 L553.6 470.5 L553.6 473 L549.3 475 L545 473 Z"/>
<path class="c" d="M553.5 470.9 L558 470.9"/>
<path class="d" d="M541.6 452 L541.6 512 M549.3 463 L549.3 467 M549.3 475.5 L549.3 481"/>
<path class="w" d="M547.8 481.5 L550.8 481.5 L551.4 484 L550.8 490 L549.3 493 L547.8 490 L547.2 484 Z"/>
<path class="l" d="M547.2 484 L551.4 484 M547.6 487 L551 487"/>
<path class="c" d="M552.4 483.2 Q556.5 487 556 494.5 M556.5 492.2 L560 492.2"/>
<path class="w" d="M537.5 513 Q541.5 511 545.5 513 L545.5 520.5 L541 525.5 L534.5 523 L531 525 L529 521.5 L535.5 517.5 L537.5 517.5 Z"/>
<ellipse class="l" cx="541.5" cy="513.6" rx="4" ry="1.8"/><ellipse class="t" cx="541.5" cy="513.6" rx="2.2" ry="1"/>
<ellipse class="l" cx="530.5" cy="523" rx="1.6" ry="2.6" transform="rotate(-28 530.5 523)"/>
<path class="t" d="M537.5 517.5 L545.5 518 M541 525.5 L541 520"/>
<path class="c" d="M546 521.5 L551 521.5"/>
<path class="c" d="M556.3 347.7 L578 347.7 L578 480 L529.8 480 L526.2 473 M578 405.8 L588 405.8"/>
<path class="c" d="M567.5 357 L567.5 362"/>
<path class="k" d="M563 362.5 L570 364 M567 361.5 L567.5 366 M571.5 362 L574.5 364.5 L571.5 366.5 Z" stroke-width="1.5"/>
<!-- p_70_housing -->
<path class="c" d="M608.8 92.6 L608.8 67.3 L701.2 29.2 L711.1 35.4 M669.3 37.8 L669.3 42"/>
<path class="w" d="M649 96 L684 112 L684 194 L649 210 Z" stroke-width="0.9"/>
<path class="w" d="M684 108 L772 145 L772 232 L686 184 Z" stroke-width="0.9"/>
<path class="w" d="M772 140 L791 133 L794 146 L795 168 L800 176 L800 262 L772 280 Z"/>
<path class="t" d="M776 150 L794 146 M776 196 L795 168 M776 205 L800 176"/>
<path class="l" d="M686 184 L772 232 M686 187 L772 235.5 M686 191 L772 239.5"/>
<path class="l" d="M684 194 L686 191"/>
<ellipse class="l" cx="698" cy="170.5" rx="12.6" ry="16.8" transform="rotate(-12 698 170.5)"/>
<path class="t" d="M686.5 166 Q688 183 700 186.5"/>
<path class="l" d="M717 184 L762 209 L762 225 L717 199 Z"/>
<path class="t" d="M715.5 190 L717 190"/>
<circle class="f" cx="694" cy="141.6" r="0.9"/>
<circle class="f" cx="723" cy="151" r="0.9"/>
<circle class="f" cx="747" cy="153" r="0.9"/>
<circle class="f" cx="758" cy="171" r="0.9"/>
<circle class="f" cx="731.6" cy="177" r="0.9"/>
<circle class="f" cx="749.6" cy="187" r="0.9"/>
<circle class="f" cx="764.4" cy="220" r="0.9"/>
<path class="w" d="M646.2 91.5 L695.7 79.8 L789.2 133.3 L773 141 L749.6 151 Q700 135 646.2 91.5 Z"/>
<path class="l" d="M647 94 Q700 138.5 749.6 153.5"/>
<path class="t" d="M789.2 133.3 L791 136"/>
<path class="w" d="M645.5 60 Q645.5 57.5 647 57.5 Q648.6 57.5 648.6 60 L648.6 66 L652.5 66 L652.5 70 L659 72.5 L659 90 L651 92 L646 89 Z"/>
<path class="l" d="M652.5 70 L652.5 90 M655.5 74 L655.5 88 M646 66 L648.6 66"/>
<ellipse class="t" cx="656" cy="90.5" rx="2" ry="1"/>
<path class="w" d="M649.5 97 L656 101 L656 138 L650.5 140 L649.5 138 Z"/>
<path class="l" d="M652.5 99 L652.5 128 L650 129 M656 122.5 L673 114.5 M656 120 L670 113"/>
<circle class="f" cx="648" cy="116" r="1.1"/><circle class="f" cx="653" cy="132" r="0.7"/>
<path class="w" d="M650 182 L656 182 L656 195 L650 193 Z"/>
<path class="l" d="M647 195 L650 194 L650 198 L647 199 Z"/>
<path class="w" d="M687 193 L693 196 L693 201 L689 202.5 L687 200 Z"/>
<path class="w" d="M768.6 131 Q768.6 128.5 770 128.5 Q771.4 128.5 771.4 131 L771.4 138 L776 139 L776 192 L777 193 L777 206 L772.5 208.5 L772 194 L769 192 Z"/>
<path class="l" d="M772.2 140 L772.2 193 M774.4 141 L774.4 192 M769 146 L769 184 L767 184 L767 148 Z"/>
<path class="l" d="M771.5 139 L778 137 L782 138.5 L780 141.5 L776 142"/>
<ellipse class="l" cx="753" cy="146" rx="3" ry="1.6"/>
<path class="t" d="M756 146 L768 141"/>
<circle class="f" cx="774.5" cy="200" r="0.7"/>
<path class="l" d="M769.5 254 L771 262 L771 268 M768 265 Q766.5 267 768 269 Q770 269.5 770 266"/>
<path class="k" d="M626.5 88.8 L628.5 90.6 M627.5 89.7 L634 86.4" stroke-width="1.5"/>
<path class="d" d="M635 86 L647.3 79.4"/>
<path class="c" d="M626.8 92 L626.8 100"/>
<path class="k" d="M676.5 208.4 L674.5 210.2 M675.5 209.3 L669.5 206" stroke-width="1.5"/>
<path class="d" d="M650 194 L669 205.5"/>
<path class="c" d="M675 211.5 L675 220"/>
<path class="k" d="M711.5 216 L713.5 218 M712.5 217 L719 213.6" stroke-width="1.5"/>
<path class="d" d="M720 213 L772 188"/>
<path class="c" d="M713 219.5 L713 228"/>
<path class="c" d="M799 115 L799 119.5"/>
<path d="M797.4 120.5 L801.6 120.5 L802 124.5 L799.6 126 L797 124.5 Z" fill="#444" stroke="#111" stroke-width="0.9"/>
<path class="d" d="M796 125.5 L774 138"/>
<!-- p_71_ring -->
<path class="c" d="M653.5 262 L676 271.5 L676 308 L655 319 M676 293 L680 293"/>
<ellipse cx="651.8" cy="285.5" rx="8.2" ry="13.2" transform="rotate(28 651.8 285.5)" fill="none" stroke="#1a1a1a" stroke-width="1.4"/>
<path d="M644 268 Q648 263.5 653 261.5" transform="translate(0 12)" stroke="#fff" stroke-width="1.2" fill="none" opacity="0.6"/>
<path class="f" d="M646.5 306.5 L654 304 L650 309 L647.5 309.5 Z"/>
<path class="f" d="M657.5 308 L664 303.5 L663.5 302.5 L666 302.5 L668 305.5 L667 308 L665.5 306.5 L659 309.5 Z"/>
<!-- p_72_tray -->
<path class="w" d="M682.2 349.8 L699.3 341.2 L748.8 365.1 L731.7 375 Z"/>
<path class="l" d="M682.2 351.6 L731.7 377 L748.8 367"/>
<rect x="703.0" y="348.5" width="1.3" height="0.9" fill="#222" transform="rotate(26 703.0 348.5)"/>
<rect x="700.9" y="349.6" width="1.3" height="0.9" fill="#222" transform="rotate(26 700.9 349.6)"/>
<rect x="698.8" y="350.8" width="1.3" height="0.9" fill="#222" transform="rotate(26 698.8 350.8)"/>
<rect x="696.7" y="351.9" width="1.3" height="0.9" fill="#222" transform="rotate(26 696.7 351.9)"/>
<rect x="694.6" y="353.1" width="1.3" height="0.9" fill="#222" transform="rotate(26 694.6 353.1)"/>
<rect x="692.5" y="354.2" width="1.3" height="0.9" fill="#222" transform="rotate(26 692.5 354.2)"/>
<rect x="706.0" y="350.0" width="1.3" height="0.9" fill="#222" transform="rotate(26 706.0 350.0)"/>
<rect x="703.9" y="351.1" width="1.3" height="0.9" fill="#222" transform="rotate(26 703.9 351.1)"/>
<rect x="701.8" y="352.3" width="1.3" height="0.9" fill="#222" transform="rotate(26 701.8 352.3)"/>
<rect x="699.8" y="353.4" width="1.3" height="0.9" fill="#222" transform="rotate(26 699.8 353.4)"/>
<rect x="697.6" y="354.6" width="1.3" height="0.9" fill="#222" transform="rotate(26 697.6 354.6)"/>
<rect x="695.5" y="355.8" width="1.3" height="0.9" fill="#222" transform="rotate(26 695.5 355.8)"/>
<rect x="709.1" y="351.5" width="1.3" height="0.9" fill="#222" transform="rotate(26 709.1 351.5)"/>
<rect x="707.0" y="352.6" width="1.3" height="0.9" fill="#222" transform="rotate(26 707.0 352.6)"/>
<rect x="704.9" y="353.8" width="1.3" height="0.9" fill="#222" transform="rotate(26 704.9 353.8)"/>
<rect x="702.8" y="354.9" width="1.3" height="0.9" fill="#222" transform="rotate(26 702.8 354.9)"/>
<rect x="700.7" y="356.1" width="1.3" height="0.9" fill="#222" transform="rotate(26 700.7 356.1)"/>
<rect x="698.6" y="357.2" width="1.3" height="0.9" fill="#222" transform="rotate(26 698.6 357.2)"/>
<rect x="712.1" y="353.0" width="1.3" height="0.9" fill="#222" transform="rotate(26 712.1 353.0)"/>
<rect x="710.0" y="354.1" width="1.3" height="0.9" fill="#222" transform="rotate(26 710.0 354.1)"/>
<rect x="707.9" y="355.3" width="1.3" height="0.9" fill="#222" transform="rotate(26 707.9 355.3)"/>
<rect x="705.9" y="356.4" width="1.3" height="0.9" fill="#222" transform="rotate(26 705.9 356.4)"/>
<rect x="703.8" y="357.6" width="1.3" height="0.9" fill="#222" transform="rotate(26 703.8 357.6)"/>
<rect x="701.6" y="358.8" width="1.3" height="0.9" fill="#222" transform="rotate(26 701.6 358.8)"/>
<rect x="715.2" y="354.5" width="1.3" height="0.9" fill="#222" transform="rotate(26 715.2 354.5)"/>
<rect x="713.1" y="355.6" width="1.3" height="0.9" fill="#222" transform="rotate(26 713.1 355.6)"/>
<rect x="711.0" y="356.8" width="1.3" height="0.9" fill="#222" transform="rotate(26 711.0 356.8)"/>
<rect x="708.9" y="357.9" width="1.3" height="0.9" fill="#222" transform="rotate(26 708.9 357.9)"/>
<rect x="706.8" y="359.1" width="1.3" height="0.9" fill="#222" transform="rotate(26 706.8 359.1)"/>
<rect x="704.7" y="360.2" width="1.3" height="0.9" fill="#222" transform="rotate(26 704.7 360.2)"/>
<rect x="718.2" y="356.0" width="1.3" height="0.9" fill="#222" transform="rotate(26 718.2 356.0)"/>
<rect x="716.1" y="357.1" width="1.3" height="0.9" fill="#222" transform="rotate(26 716.1 357.1)"/>
<rect x="714.0" y="358.3" width="1.3" height="0.9" fill="#222" transform="rotate(26 714.0 358.3)"/>
<rect x="712.0" y="359.4" width="1.3" height="0.9" fill="#222" transform="rotate(26 712.0 359.4)"/>
<rect x="709.9" y="360.6" width="1.3" height="0.9" fill="#222" transform="rotate(26 709.9 360.6)"/>
<rect x="707.8" y="361.8" width="1.3" height="0.9" fill="#222" transform="rotate(26 707.8 361.8)"/>
<rect x="721.3" y="357.5" width="1.3" height="0.9" fill="#222" transform="rotate(26 721.3 357.5)"/>
<rect x="719.2" y="358.6" width="1.3" height="0.9" fill="#222" transform="rotate(26 719.2 358.6)"/>
<rect x="717.1" y="359.8" width="1.3" height="0.9" fill="#222" transform="rotate(26 717.1 359.8)"/>
<rect x="715.0" y="360.9" width="1.3" height="0.9" fill="#222" transform="rotate(26 715.0 360.9)"/>
<rect x="712.9" y="362.1" width="1.3" height="0.9" fill="#222" transform="rotate(26 712.9 362.1)"/>
<rect x="710.8" y="363.2" width="1.3" height="0.9" fill="#222" transform="rotate(26 710.8 363.2)"/>
<rect x="724.4" y="359.0" width="1.3" height="0.9" fill="#222" transform="rotate(26 724.4 359.0)"/>
<rect x="722.2" y="360.1" width="1.3" height="0.9" fill="#222" transform="rotate(26 722.2 360.1)"/>
<rect x="720.1" y="361.3" width="1.3" height="0.9" fill="#222" transform="rotate(26 720.1 361.3)"/>
<rect x="718.1" y="362.4" width="1.3" height="0.9" fill="#222" transform="rotate(26 718.1 362.4)"/>
<rect x="716.0" y="363.6" width="1.3" height="0.9" fill="#222" transform="rotate(26 716.0 363.6)"/>
<rect x="713.9" y="364.8" width="1.3" height="0.9" fill="#222" transform="rotate(26 713.9 364.8)"/>
<rect x="727.4" y="360.5" width="1.3" height="0.9" fill="#222" transform="rotate(26 727.4 360.5)"/>
<rect x="725.3" y="361.6" width="1.3" height="0.9" fill="#222" transform="rotate(26 725.3 361.6)"/>
<rect x="723.2" y="362.8" width="1.3" height="0.9" fill="#222" transform="rotate(26 723.2 362.8)"/>
<rect x="721.1" y="363.9" width="1.3" height="0.9" fill="#222" transform="rotate(26 721.1 363.9)"/>
<rect x="719.0" y="365.1" width="1.3" height="0.9" fill="#222" transform="rotate(26 719.0 365.1)"/>
<rect x="716.9" y="366.2" width="1.3" height="0.9" fill="#222" transform="rotate(26 716.9 366.2)"/>
<rect x="730.5" y="362.0" width="1.3" height="0.9" fill="#222" transform="rotate(26 730.5 362.0)"/>
<rect x="728.4" y="363.1" width="1.3" height="0.9" fill="#222" transform="rotate(26 728.4 363.1)"/>
<rect x="726.2" y="364.3" width="1.3" height="0.9" fill="#222" transform="rotate(26 726.2 364.3)"/>
<rect x="724.2" y="365.4" width="1.3" height="0.9" fill="#222" transform="rotate(26 724.2 365.4)"/>
<rect x="722.1" y="366.6" width="1.3" height="0.9" fill="#222" transform="rotate(26 722.1 366.6)"/>
<rect x="720.0" y="367.8" width="1.3" height="0.9" fill="#222" transform="rotate(26 720.0 367.8)"/>
<rect x="733.5" y="363.5" width="1.3" height="0.9" fill="#222" transform="rotate(26 733.5 363.5)"/>
<rect x="731.4" y="364.6" width="1.3" height="0.9" fill="#222" transform="rotate(26 731.4 364.6)"/>
<rect x="729.3" y="365.8" width="1.3" height="0.9" fill="#222" transform="rotate(26 729.3 365.8)"/>
<rect x="727.2" y="366.9" width="1.3" height="0.9" fill="#222" transform="rotate(26 727.2 366.9)"/>
<rect x="725.1" y="368.1" width="1.3" height="0.9" fill="#222" transform="rotate(26 725.1 368.1)"/>
<rect x="723.0" y="369.2" width="1.3" height="0.9" fill="#222" transform="rotate(26 723.0 369.2)"/>
<rect x="736.5" y="365.0" width="1.3" height="0.9" fill="#222" transform="rotate(26 736.5 365.0)"/>
<rect x="734.4" y="366.1" width="1.3" height="0.9" fill="#222" transform="rotate(26 734.4 366.1)"/>
<rect x="732.3" y="367.3" width="1.3" height="0.9" fill="#222" transform="rotate(26 732.3 367.3)"/>
<rect x="730.2" y="368.4" width="1.3" height="0.9" fill="#222" transform="rotate(26 730.2 368.4)"/>
<rect x="728.1" y="369.6" width="1.3" height="0.9" fill="#222" transform="rotate(26 728.1 369.6)"/>
<rect x="726.0" y="370.8" width="1.3" height="0.9" fill="#222" transform="rotate(26 726.0 370.8)"/>
<rect x="739.6" y="366.5" width="1.3" height="0.9" fill="#222" transform="rotate(26 739.6 366.5)"/>
<rect x="737.5" y="367.6" width="1.3" height="0.9" fill="#222" transform="rotate(26 737.5 367.6)"/>
<rect x="735.4" y="368.8" width="1.3" height="0.9" fill="#222" transform="rotate(26 735.4 368.8)"/>
<rect x="733.3" y="369.9" width="1.3" height="0.9" fill="#222" transform="rotate(26 733.3 369.9)"/>
<rect x="731.2" y="371.1" width="1.3" height="0.9" fill="#222" transform="rotate(26 731.2 371.1)"/>
<rect x="729.1" y="372.2" width="1.3" height="0.9" fill="#222" transform="rotate(26 729.1 372.2)"/>
<rect x="742.6" y="368.0" width="1.3" height="0.9" fill="#222" transform="rotate(26 742.6 368.0)"/>
<rect x="740.5" y="369.1" width="1.3" height="0.9" fill="#222" transform="rotate(26 740.5 369.1)"/>
<rect x="738.4" y="370.3" width="1.3" height="0.9" fill="#222" transform="rotate(26 738.4 370.3)"/>
<rect x="736.4" y="371.4" width="1.3" height="0.9" fill="#222" transform="rotate(26 736.4 371.4)"/>
<rect x="734.2" y="372.6" width="1.3" height="0.9" fill="#222" transform="rotate(26 734.2 372.6)"/>
<rect x="732.1" y="373.8" width="1.3" height="0.9" fill="#222" transform="rotate(26 732.1 373.8)"/>
<path class="c" d="M749.5 366 L758 366"/>
<path class="c" d="M772.2 359.7 L783 365.1 L783 438 L760.5 447.9 M783 418.7 L789.5 418.7"/>
<path class="w" d="M679.5 377.7 L701.1 367.8 L745.2 386.7 L743.4 416.4 L723.6 425.4 L702 414.6 L681.3 401.1 Z"/>
<path class="l" d="M679.5 377.7 L723.6 402 L745.2 386.7 M723.6 402 L723.6 425.4"/>
<path class="t" d="M683 378.5 L701 370.5 L741 388 M701 370.5 L701 385 M684 380 L724 402 M688 380 L688 388 L718 404 M699.5 368.5 L699.5 388 M702.8 368.5 L702.8 388"/>
<path class="l" d="M699.5 366.5 L699.5 370 M702.8 366 L702.8 369 M742 383 L742 390 M745 384 L745 388"/>
<path class="l" d="M712 396 L716 398 L716 403 L719 404.5 L719 400 M727 404 L727 400 L731 397.5 L731 401 L735 399 L735 416 M739 394 L739 414"/>
<path class="t" d="M681.3 401.1 L702 414.6 M727 423 L727 406"/>
<path class="w" d="M701.5 416 L702.5 424 Q710 431 718.5 426 L719 420 Z"/>
<ellipse class="l" cx="710.5" cy="424.5" rx="8" ry="3.6"/>
<path class="l" d="M704 423 L716 427.5 M705 427 L716 421.5 M710.5 421 L710.5 428"/>
<path class="c" d="M773.4 398 L773.4 405.6"/>
<path class="k" d="M773.4 405.6 L773.8 432 Q773.5 437 769.5 438 L767.8 435.5 L760 439.5 L757 445 L753 443.5 L750.6 418.5 L752.6 416.6" stroke-width="1.3"/>
<path class="t" d="M774.8 405.6 L775.2 432 Q775 438.5 770 439.5"/>
<path class="w" d="M692.1 443.4 L708.3 437.1 L784.8 474 L784.8 497.4 L768.6 504.6 L768.6 483.5 L711 456.9 L708.3 458.7 L692.1 466.8 Z"/>
<path class="l" d="M708.3 437.1 L708.3 458.7 M711 440 L711 456.9 M768.6 483 L784.8 475.5"/>
<path class="k" d="M708.3 437.1 L784.8 474" stroke-width="1.5"/>
<path class="t" d="M711 440.5 L782 475 M747 455.5 L749 454 "/>
<path class="w" d="M646.2 469.5 L663.3 460.5 L665.1 478.5 L709.2 503.7 L718.2 506.4 L740.7 498.3 L739.8 521.7 L718.2 530.7 L647.1 495.6 Z"/>
<path class="k" d="M646.2 469.5 L718.2 506.4 L740.7 498.3" stroke-width="1.5"/>
<path class="l" d="M718.2 506.4 L718.2 530.7 M720.5 506 L720.5 529.5 M646.2 469.5 L647.1 495.6"/>
<path class="t" d="M653.4 475.8 L709.2 503.7 M648.5 472.5 L718 508.5 L739 501 M652.5 464 Q653 461.5 658.8 461.4"/>
<path class="c" d="M663.3 443.4 L689.4 443.4 M662.8 447 L662.8 459.6"/>
<!-- p_80_left -->
<path class="c" d="M326.6 587.5 L326.6 595 M310.6 617 L310.6 641 M326.6 631 L326.6 649 M388.6 661 L388.6 682"/>
<path class="w" d="M295.4 637.6 Q296 632 304.5 629.4 L427 690 Q431 692 430 694.6 Q428 698.5 421 698.4 Q410 697.5 397 693.6 Q382 689 365 680.8 Q350 673 333 663.2 Q318 655 296.2 639.2 Z"/>
<path class="k" d="M302 630.2 Q296 632.5 295.6 637.4 Q295.6 638.6 296.2 639.2 Q318 655 333 663.2 Q350 673 365 680.8 Q382 689 397 693.6 Q410 697.5 421 698.4 Q428 698.5 430 694.6" stroke-width="2.8"/>
<path d="M302 630.2 Q296 632.5 295.6 637.4 Q295.6 638.6 296.2 639.2 Q318 655 333 663.2 Q350 673 365 680.8 Q382 689 397 693.6 Q410 697.5 421 698.4 Q428 698.5 430 694.6" fill="none" stroke="#fff" stroke-width="0.5" stroke-dasharray="0.6 2.6" transform="translate(0 -0.2)"/>
<path class="t" d="M306.5 632 L425 691"/>
<ellipse cx="310.6" cy="640.8" rx="10.2" ry="5.4" fill="#fff" stroke="#1a1a1a" stroke-width="1.8"/>
<path class="l" d="M302.2 641.8 Q310.6 648.4 319 641.8"/>
<ellipse cx="326.6" cy="649.4" rx="10.2" ry="5.4" fill="#fff" stroke="#1a1a1a" stroke-width="1.8"/>
<path class="l" d="M318.2 650.4 Q326.6 657 335 650.4"/>
<ellipse cx="389" cy="681.6" rx="10.2" ry="5.4" fill="#fff" stroke="#1a1a1a" stroke-width="1.8"/>
<path class="l" d="M380.6 682.6 Q389 689.2 397.4 682.6"/>
<ellipse cx="408.2" cy="689.6" rx="10.2" ry="5.4" fill="#fff" stroke="#1a1a1a" stroke-width="1.8"/>
<path class="l" d="M399.8 690.6 Q408.2 697.2 416.6 690.6"/>
<path class="c" d="M310.6 630 L310.6 642 M326.6 640 L326.6 650 M388.6 670 L388.6 683"/>
<g transform="translate(327 575) scale(1)">
<path class="w" d="M-6.8 2.5 L-6.4 8 Q0 11.8 6.4 8 L6.8 2.5 Z" stroke-width="1.4"/>
<ellipse class="w" cx="0" cy="0" rx="10" ry="4.4" stroke-width="1.5"/>
<path class="t" d="M-9 1.6 Q0 6.8 9 1.6"/>
</g>
<g transform="translate(311 607) scale(1)">
<path class="w" d="M-6.8 2.5 L-6.4 8 Q0 11.8 6.4 8 L6.8 2.5 Z" stroke-width="1.4"/>
<ellipse class="w" cx="0" cy="0" rx="10" ry="4.4" stroke-width="1.5"/>
<path class="t" d="M-9 1.6 Q0 6.8 9 1.6"/>
</g>
<g transform="translate(327 621) scale(1)">
<path class="w" d="M-6.8 2.5 L-6.4 8 Q0 11.8 6.4 8 L6.8 2.5 Z" stroke-width="1.4"/>
<ellipse class="w" cx="0" cy="0" rx="10" ry="4.4" stroke-width="1.5"/>
<path class="t" d="M-9 1.6 Q0 6.8 9 1.6"/>
</g>
<g transform="translate(389 651) scale(1)">
<path class="w" d="M-6.8 2.5 L-6.4 8 Q0 11.8 6.4 8 L6.8 2.5 Z" stroke-width="1.4"/>
<ellipse class="w" cx="0" cy="0" rx="10" ry="4.4" stroke-width="1.5"/>
<path class="t" d="M-9 1.6 Q0 6.8 9 1.6"/>
</g>
<path class="c" d="M307 596 L284.6 586 L284.6 642 L291 646 M276.5 619 L284.6 619"/>
<path class="c" d="M337.5 578 L339.5 579 M298 606 L301 606 M337.5 624 L339.5 625 M374.5 650 L379 650.5"/>
<path class="t" d="M406 597 Q404.5 625 404.5 640 L404 678 M409.3 597 Q408.5 625 408.5 640 L408.3 682"/>
<path class="w" d="M398 581 L402.5 591 L404 591.5 L404 595.5 Q408 597.5 412 595.5 L412 591.5 L413.5 591 L418 581 Z"/>
<ellipse class="w" cx="408" cy="581" rx="10" ry="4"/>
<ellipse class="l" cx="408" cy="581.3" rx="6.6" ry="2.5"/>
<path class="k" d="M402.5 582.5 Q408 586 413.5 582.5"/>
<path class="t" d="M402.5 591 Q408 594 413.5 591"/>
<path class="w" d="M404.5 568 L405 572.5 Q408 574 411 572.5 L411.5 568 Z"/>
<path d="M401.5 561 Q401.5 558.5 408 558.5 Q414.5 558.5 414.5 561 L414 567 Q408 570 402 567 Z" fill="#333" stroke="#111" stroke-width="1"/>
<path d="M404 560.5 L404.3 567.5 M406.5 560 L406.7 568.3 M409.5 560 L409.3 568.3 M412 560.5 L411.7 567.5" stroke="#bbb" stroke-width="0.6"/>
<path class="d" d="M408 573.5 L408 579"/>
<path class="c" d="M415 562.4 L426 562.4 M415 577 L424 577 L424 607 M424 592.4 L430 592.4"/>
<path class="d" d="M409.5 684 L409.5 818"/>
<path class="d" d="M405 680 L405 700"/>
<path class="w" d="M333.5 686.5 L339.5 682.8 L372.5 697 L386 705.2 L380 710 L374 707 L370 709.5 L362 705.5 L364 703 L352 697.5 L349.5 699.5 L344 696.5 L346 694 L341.5 692 L341.5 690 L335 689.5 Z" stroke-width="0.9"/>
<path class="l" d="M351.5 691 L357 688 L371 694.5 L366 698.5 Z"/>
<rect x="356" y="691.5" width="1.6" height="1" fill="#333"/>
<rect x="360" y="693.2" width="1.6" height="1" fill="#333"/>
<rect x="364" y="695" width="1.6" height="1" fill="#333"/>
<rect x="358.5" y="694.5" width="1.6" height="1" fill="#333"/>
<rect x="362.5" y="696.2" width="1.6" height="1" fill="#333"/>
<path class="k" d="M347 694.5 L347.5 698"/>
<path class="c" d="M374 712 L371.7 712.7 L371.7 725.5 L374 726"/>
<path class="d" d="M386 705.5 L375 715"/>
<path class="w" d="M388 705.8 L391.5 704.5 L394 706.5 L391 708.5 Z"/>
<path class="l" d="M394 707.5 Q399 710.5 402.5 710.5 L403.8 700"/>
<path class="w" d="M376 717.5 L379.5 716.5 L382 718.8 L378.5 720.5 Z"/>
<path class="l" d="M382 719.5 Q392 724.5 404 724.7 L429.5 724.7 M383 721.5 Q392 726.3 404 726.3 L429.5 726.3"/>
<path d="M430.2 721.5 L439 720.5 L440 726 L431 727.5 Z" fill="#555" stroke="#111" stroke-width="0.9"/>
<path class="k" d="M441.5 722.6 L447 721.6 M435 730.2 L439.5 729.4"/>
<path class="k" d="M436.5 706.5 L439.5 706.5 M438.2 707 L438.2 712"/>
<path class="t" d="M438.2 712 L438.2 720"/>
<path class="c" d="M440 706.7 L446 706.7 M442.5 729.7 L447 729.7"/>
<path class="w" d="M289 710.5 L297 705 L426 767 L427.5 770 L425 779.5 L410 786.5 Q395 783 380 774 Q330 748 289 725.5 Z" stroke-width="1.5"/>
<path class="l" d="M293 711.5 L299.5 708.2 L421 767.5 L411.5 772.5"/>
<path class="t" d="M300 711.5 L415 768.5"/>
<path class="k" d="M291 712.5 Q340 740.0 411 773.5" stroke-width="1.7"/>
<path class="k" d="M289 725.5 Q330 748 380 774 Q395 783 410 786.5" stroke-width="1.7"/>
<path class="l" d="M294.0 714.9 L294.0 727.2 M296.6 716.2 L296.6 728.4"/>
<path class="l" d="M303.4 719.9 L303.4 732.0 M306.0 721.2 L306.0 733.2"/>
<path class="l" d="M312.8 724.9 L312.8 736.8 M315.4 726.2 L315.4 738.0"/>
<path class="l" d="M322.2 729.8 L322.2 741.5 M324.8 731.1 L324.8 742.7"/>
<path class="l" d="M331.6 734.8 L331.6 746.3 M334.2 736.1 L334.2 747.5"/>
<path class="l" d="M341.0 739.8 L341.0 751.1 M343.6 741.1 L343.6 752.3"/>
<path class="l" d="M350.4 744.8 L350.4 755.8 M353.0 746.1 L353.0 757.0"/>
<path class="l" d="M359.8 749.8 L359.8 760.6 M362.4 751.1 L362.4 761.8"/>
<path class="l" d="M369.2 754.7 L369.2 765.4 M371.8 756.0 L371.8 766.6"/>
<path class="l" d="M378.6 759.7 L378.6 770.1 M381.2 761.0 L381.2 771.3"/>
<path class="l" d="M388.0 764.7 L388.0 774.9 M390.6 766.0 L390.6 776.1"/>
<path class="l" d="M397.4 769.7 L397.4 779.7 M400.0 771.0 L400.0 780.9"/>
<path class="l" d="M406.8 774.7 L406.8 784.4 M409.4 776.0 L409.4 785.6"/>
<path class="w" d="M300 708.5 l3 -1.5 l2.5 1.2 l0 8 l-3 1.5 l-2.5 -1.2 Z"/>
<path class="l" d="M302.5 709.7 l0 8"/>
<path class="w" d="M323 719.5 l3 -1.5 l2.5 1.2 l0 8 l-3 1.5 l-2.5 -1.2 Z"/>
<path class="l" d="M325.5 720.7 l0 8"/>
<path class="w" d="M344 730.5 l3 -1.5 l2.5 1.2 l0 8 l-3 1.5 l-2.5 -1.2 Z"/>
<path class="l" d="M346.5 731.7 l0 8"/>
<path class="w" d="M366 740.5 l3 -1.5 l2.5 1.2 l0 8 l-3 1.5 l-2.5 -1.2 Z"/>
<path class="l" d="M368.5 741.7 l0 8"/>
<path class="w" d="M388 751.5 l3 -1.5 l2.5 1.2 l0 8 l-3 1.5 l-2.5 -1.2 Z"/>
<path class="l" d="M390.5 752.7 l0 8"/>
<path class="w" d="M404 759.5 l3 -1.5 l2.5 1.2 l0 8 l-3 1.5 l-2.5 -1.2 Z"/>
<path class="l" d="M406.5 760.7 l0 8"/>
<path class="k" d="M319 727 L326 716.5 L329 718 L326 731 M356 746 L362 735 L365 736.5 L363 750 M392 764 L397 755 L400 756.5 L398 768" stroke-width="1.4"/>
<path class="l" d="M322 727.5 L327.5 719 M359 746.5 L363.5 738 M394.5 764.5 L398.5 757.5"/>
<path class="k" d="M308 722 L314 725 L318 723 M334 737 L340 740 L344 738 M347 743 L353 746 M372 756 L378 759 L382 757 M384 762 L389 764.5" stroke-width="1.5"/>
<path class="l" d="M310 716 L310 722 M336 729 L336 737 M350 736 L350 744 M374 748 L374 756 M381 752 L381 757"/>
<path class="k" d="M304 715.5 l0 5.5 l4.5 2.3 l0 -5.5" stroke-width="1.4"/>
<path class="k" d="M313 720 l0 5.5 l4.5 2.3 l0 -5.5" stroke-width="1.4"/>
<path class="k" d="M329 728 l0 5.5 l4.5 2.3 l0 -5.5" stroke-width="1.4"/>
<path class="k" d="M338 732.5 l0 5.5 l4.5 2.3 l0 -5.5" stroke-width="1.4"/>
<path class="k" d="M349 738 l0 5.5 l4.5 2.3 l0 -5.5" stroke-width="1.4"/>
<path class="k" d="M358 742.5 l0 5.5 l4.5 2.3 l0 -5.5" stroke-width="1.4"/>
<path class="k" d="M370 748.5 l0 5.5 l4.5 2.3 l0 -5.5" stroke-width="1.4"/>
<path class="k" d="M379 753 l0 5.5 l4.5 2.3 l0 -5.5" stroke-width="1.4"/>
<path class="k" d="M394 760.5 l0 5.5 l4.5 2.3 l0 -5.5" stroke-width="1.4"/>
<path class="l" d="M411 773 L411 786 M416 770.5 L416 784 M421 768 L421 781.5 M425 766.5 L425.5 779"/>
<circle class="l" cx="418" cy="765.5" r="1.3"/>
<path class="k" d="M286 739.5 L288 741 M287 740.2 L298 736"/>
<path class="c" d="M415.6 785 L415.6 792.5"/>
<path class="w" d="M261 721 Q255 722 251 728 L252 740 Q300 775 368 802 L390 794 L389 783 L368 788 Q320 770 266 737 Q262 728 261 721 Z"/>
<path class="k" d="M251.5 729 Q300 762 368 788 L389 783" stroke-width="2"/>
<path class="t" d="M253 732.5 Q300 765 368 791 L389.5 786"/>
<path class="l" d="M368 788 L368 802 M261 721 Q262 728 266 737 Q320 770 352 779"/>
<path class="t" d="M372 787 L374 800 M381 785.5 L381.5 789"/>
<ellipse class="t" cx="270.5" cy="737" rx="2.2" ry="1.1"/><ellipse class="t" cx="353" cy="779" rx="2.2" ry="1.1"/>
<path class="c" d="M380 802.5 L380 808"/>
<path class="w" d="M286.8 804 Q287 799.5 291 798 L297 795.5 L307 804.4 L345.7 824.6 L404 854.7 L413 852 L425.6 849.3 L426.5 856 L423.9 985 L406 988.5 Q389 983 355 967.5 Q335 956 293 928.4 Q287 880 285.8 808 Z" stroke="none"/>
<path class="l" d="M298 788 L299.5 792.5 L303.5 794.5 L303.5 791 M302 790.5 L307 792.5 L308.5 796 L308.5 805 M299.5 792.5 L299.5 798 M305 794 L305 802.5"/>
<path class="k" d="M286.8 804 Q287 799.5 291 798 L297 795.5 L307 804.4 L345.7 824.6 L404 854.7" stroke-width="1.7"/>
<path class="t" d="M290 801.5 L297 798.5 L304 805"/>
<path class="k" d="M289.5 802.4 Q286.2 802.6 287.6 805.4 L307.0 814.7 L325.0 824.6 L343.0 835.0 L370.0 848.6 L404.0 864.6" stroke-width="2.4"/>
<path class="l" d="M289.5 805.7 Q286.2 805.9 287.6 808.7 L307.0 818.0 L325.0 827.9 L343.0 838.3 L370.0 851.9 L404.0 867.9"/>
<path class="l" d="M404 864.6 L413 861.4 L425.6 859.2"/>
<path class="l" d="M404 868.0 L413 865.2 L425.6 863.4"/>
<path class="t" d="M404.5 868.2 L409 872.0 L425.8 868.0"/>
<path class="t" d="M351 829.5 L343.5 835.5"/>
<path class="t" d="M290.5 802.0 L294 799.0"/>
<path class="k" d="M289.5 812.7 Q286.2 812.9 287.6 815.7 L307.0 825.0 L325.0 834.9 L343.0 845.3 L370.0 858.9 L404.0 874.5" stroke-width="2.4"/>
<path class="l" d="M289.5 816.0 Q286.2 816.2 287.6 819.0 L307.0 828.3 L325.0 838.2 L343.0 848.6 L370.0 862.2 L404.0 877.8"/>
<path class="l" d="M404 874.5 L413 871.3 L425.6 869.1"/>
<path class="l" d="M404 877.9 L413 875.1 L425.6 873.3"/>
<path class="t" d="M404.5 878.1 L409 881.9 L425.8 877.9"/>
<path class="t" d="M351 839.8 L343.5 845.8"/>
<path class="t" d="M290.5 812.3 L294 809.3"/>
<path class="k" d="M289.5 823.0 Q286.2 823.2 287.6 826.0 L307.0 835.3 L325.0 845.2 L343.0 855.6 L370.0 869.2 L404.0 884.4" stroke-width="2.4"/>
<path class="l" d="M289.5 826.3 Q286.2 826.5 287.6 829.3 L307.0 838.6 L325.0 848.5 L343.0 858.9 L370.0 872.5 L404.0 887.7"/>
<path class="l" d="M404 884.4 L413 881.2 L425.6 879.0"/>
<path class="l" d="M404 887.8 L413 885.0 L425.6 883.2"/>
<path class="t" d="M404.5 888.0 L409 891.8 L425.8 887.8"/>
<path class="t" d="M351 850.1 L343.5 856.1"/>
<path class="t" d="M290.5 822.6 L294 819.6"/>
<path class="k" d="M289.5 833.3 Q286.2 833.5 287.6 836.3 L307.0 845.6 L325.0 855.5 L343.0 865.9 L370.0 879.5 L404.0 894.3" stroke-width="2.4"/>
<path class="l" d="M289.5 836.6 Q286.2 836.8 287.6 839.6 L307.0 848.9 L325.0 858.8 L343.0 869.2 L370.0 882.8 L404.0 897.6"/>
<path class="l" d="M404 894.3 L413 891.1 L425.6 888.9"/>
<path class="l" d="M404 897.7 L413 894.9 L425.6 893.1"/>
<path class="t" d="M404.5 897.9 L409 901.7 L425.8 897.7"/>
<path class="t" d="M351 860.4 L343.5 866.4"/>
<path class="t" d="M290.5 832.9 L294 829.9"/>
<path class="k" d="M289.5 843.6 Q286.2 843.8 287.6 846.6 L307.0 855.9 L325.0 865.8 L343.0 876.2 L370.0 889.8 L404.0 904.2" stroke-width="2.4"/>
<path class="l" d="M289.5 846.9 Q286.2 847.1 287.6 849.9 L307.0 859.2 L325.0 869.1 L343.0 879.5 L370.0 893.1 L404.0 907.5"/>
<path class="l" d="M404 904.2 L413 901.0 L425.6 898.8"/>
<path class="l" d="M404 907.6 L413 904.8 L425.6 903.0"/>
<path class="t" d="M404.5 907.8 L409 911.6 L425.8 907.6"/>
<path class="t" d="M351 870.7 L343.5 876.7"/>
<path class="t" d="M290.5 843.2 L294 840.2"/>
<path class="l" d="M404 854.7 L413 851.7 L425.6 849.3"/>
<path class="t" d="M404.5 856.7 L409 860.7 L425.8 857.2"/>
<path class="w" d="M347.5 825.5 Q348 821.5 351 821.5 Q354.5 822 354.5 829"/>
<path class="l" d="M286.8 804 L286 812 Q287 880 293 928.4 Q335 956 355 967.5 Q389 983 406 988.5 L423.9 985"/>
<path class="t" d="M289.5 856 Q290.5 900 296 930"/>
<path class="l" d="M425.7 846.5 L426.5 856 L423.9 985 M413 852 L413.5 847.5 L425.7 844"/>
<path class="l" d="M402.6 908 L406.9 988 M411 909.7 L416.2 987" stroke-width="0.9"/>
<path class="t" d="M402.6 908 L411 909.7 L425.8 904.6"/>
<path class="k" d="M288.7 876.6 Q321 895 355 914.8 Q380 926 402.6 932.7" stroke-width="1.5"/>

<circle cx="303.4" cy="896" r="2.7" fill="none" stroke="#222" stroke-width="1.5"/>
<path d="M305.5 898.3 L316 903 L316 906.5 L305.5 901.8 Z" fill="#333"/>
<ellipse class="t" cx="377" cy="934.5" rx="3" ry="1.3" transform="rotate(22 377 934.5)"/>
<path class="c" d="M275.5 866 L285.8 866"/>
<!-- p_81_right -->
<path class="c" d="M607.9 578 L607.9 587 M589.7 611 L589.7 637 M607.9 627.5 L607.9 647 M676.8 661 L676.8 683"/>
<g transform="translate(589.70 636.70) scale(1.1260 1.1140) translate(-311.00 -641.00)"><path class="w" d="M295.4 637.6 Q296 632 304.5 629.4 L427 690 Q431 692 430 694.6 Q428 698.5 421 698.4 Q410 697.5 397 693.6 Q382 689 365 680.8 Q350 673 333 663.2 Q318 655 296.2 639.2 Z"/>
<path class="k" d="M302 630.2 Q296 632.5 295.6 637.4 Q295.6 638.6 296.2 639.2 Q318 655 333 663.2 Q350 673 365 680.8 Q382 689 397 693.6 Q410 697.5 421 698.4 Q428 698.5 430 694.6" stroke-width="2.8"/>
<path d="M302 630.2 Q296 632.5 295.6 637.4 Q295.6 638.6 296.2 639.2 Q318 655 333 663.2 Q350 673 365 680.8 Q382 689 397 693.6 Q410 697.5 421 698.4 Q428 698.5 430 694.6" fill="none" stroke="#fff" stroke-width="0.5" stroke-dasharray="0.6 2.6" transform="translate(0 -0.2)"/>
<path class="t" d="M306.5 632 L425 691"/>
<ellipse cx="310.6" cy="640.8" rx="10.2" ry="5.4" fill="#fff" stroke="#1a1a1a" stroke-width="1.8"/>
<path class="l" d="M302.2 641.8 Q310.6 648.4 319 641.8"/>
<ellipse cx="326.6" cy="649.4" rx="10.2" ry="5.4" fill="#fff" stroke="#1a1a1a" stroke-width="1.8"/>
<path class="l" d="M318.2 650.4 Q326.6 657 335 650.4"/>
<ellipse cx="389" cy="681.6" rx="10.2" ry="5.4" fill="#fff" stroke="#1a1a1a" stroke-width="1.8"/>
<path class="l" d="M380.6 682.6 Q389 689.2 397.4 682.6"/>
<ellipse cx="408.2" cy="689.6" rx="10.2" ry="5.4" fill="#fff" stroke="#1a1a1a" stroke-width="1.8"/>
<path class="l" d="M399.8 690.6 Q408.2 697.2 416.6 690.6"/></g>
<path class="c" d="M589.7 625 L589.7 638 M607.9 636 L607.9 648 M676.8 671 L676.8 684"/>
<path class="d" d="M698.2 635 L698.5 691"/>
<g transform="translate(607.9 563.9) scale(1.17)">
<path class="w" d="M-6.8 2.5 L-6.4 8 Q0 11.8 6.4 8 L6.8 2.5 Z" stroke-width="1.4"/>
<ellipse class="w" cx="0" cy="0" rx="10" ry="4.4" stroke-width="1.5"/>
<path class="t" d="M-9 1.6 Q0 6.8 9 1.6"/>
</g>
<g transform="translate(589.7 599.3) scale(1.17)">
<path class="w" d="M-6.8 2.5 L-6.4 8 Q0 11.8 6.4 8 L6.8 2.5 Z" stroke-width="1.4"/>
<ellipse class="w" cx="0" cy="0" rx="10" ry="4.4" stroke-width="1.5"/>
<path class="t" d="M-9 1.6 Q0 6.8 9 1.6"/>
</g>
<g transform="translate(607.9 615.9) scale(1.17)">
<path class="w" d="M-6.8 2.5 L-6.4 8 Q0 11.8 6.4 8 L6.8 2.5 Z" stroke-width="1.4"/>
<ellipse class="w" cx="0" cy="0" rx="10" ry="4.4" stroke-width="1.5"/>
<path class="t" d="M-9 1.6 Q0 6.8 9 1.6"/>
</g>
<g transform="translate(676.8 649.2) scale(1.17)">
<path class="w" d="M-6.8 2.5 L-6.4 8 Q0 11.8 6.4 8 L6.8 2.5 Z" stroke-width="1.4"/>
<ellipse class="w" cx="0" cy="0" rx="10" ry="4.4" stroke-width="1.5"/>
<path class="t" d="M-9 1.6 Q0 6.8 9 1.6"/>
</g>
<path class="c" d="M583.2 586.8 L559.8 576.4 L559.8 640.1 L567.6 642.7 M551 613.6 L559.8 613.6"/>
<path class="c" d="M620 566.5 L622.5 567 M576 599.3 L578 599.3 M620 617.5 L622.5 618 M660 648.2 L664.5 648.8"/>
<g transform="translate(698.20 614.50) scale(1.1500 1.1500) translate(-408.00 -581.00)"><path class="w" d="M398 581 L402.5 591 L404 591.5 L404 595.5 Q408 597.5 412 595.5 L412 591.5 L413.5 591 L418 581 Z"/><ellipse class="w" cx="408" cy="581" rx="10" ry="4"/><ellipse class="l" cx="408" cy="581.3" rx="6.6" ry="2.5"/><path class="k" d="M402.5 582.5 Q408 586 413.5 582.5"/><path class="t" d="M402.5 591 Q408 594 413.5 591"/></g>
<g transform="translate(698.00 595.20) scale(1.1500 1.1500) translate(-408.00 -563.00)"><path class="w" d="M404.5 568 L405 572.5 Q408 574 411 572.5 L411.5 568 Z"/><path d="M401.5 561 Q401.5 558.5 408 558.5 Q414.5 558.5 414.5 561 L414 567 Q408 570 402 567 Z" fill="#333" stroke="#111" stroke-width="1"/><path d="M404 560.5 L404.3 567.5 M406.5 560 L406.7 568.3 M409.5 560 L409.3 568.3 M412 560.5 L411.7 567.5" stroke="#bbb" stroke-width="0.6"/></g>
<path class="d" d="M698.2 606.5 L698.2 611"/>
<path class="c" d="M706.5 594.5 L715.5 594.5 M710.5 615.6 L715 615.6"/>
<g transform="translate(564.50 680.00) scale(1.1180 1.0750) translate(-289.00 -710.50)"><path class="w" d="M289 710.5 L297 705 L426 767 L427.5 770 L425 779.5 L410 786.5 Q395 783 380 774 Q330 748 289 725.5 Z" stroke-width="1.5"/>
<path class="l" d="M293 711.5 L299.5 708.2 L421 767.5 L411.5 772.5"/>
<path class="t" d="M300 711.5 L415 768.5"/>
<path class="k" d="M291 712.5 Q340 740.0 411 773.5" stroke-width="1.7"/>
<path class="k" d="M289 725.5 Q330 748 380 774 Q395 783 410 786.5" stroke-width="1.7"/>
<path class="l" d="M294.0 714.9 L294.0 727.2 M296.6 716.2 L296.6 728.4"/>
<path class="l" d="M303.4 719.9 L303.4 732.0 M306.0 721.2 L306.0 733.2"/>
<path class="l" d="M312.8 724.9 L312.8 736.8 M315.4 726.2 L315.4 738.0"/>
<path class="l" d="M322.2 729.8 L322.2 741.5 M324.8 731.1 L324.8 742.7"/>
<path class="l" d="M331.6 734.8 L331.6 746.3 M334.2 736.1 L334.2 747.5"/>
<path class="l" d="M341.0 739.8 L341.0 751.1 M343.6 741.1 L343.6 752.3"/>
<path class="l" d="M350.4 744.8 L350.4 755.8 M353.0 746.1 L353.0 757.0"/>
<path class="l" d="M359.8 749.8 L359.8 760.6 M362.4 751.1 L362.4 761.8"/>
<path class="l" d="M369.2 754.7 L369.2 765.4 M371.8 756.0 L371.8 766.6"/>
<path class="l" d="M378.6 759.7 L378.6 770.1 M381.2 761.0 L381.2 771.3"/>
<path class="l" d="M388.0 764.7 L388.0 774.9 M390.6 766.0 L390.6 776.1"/>
<path class="l" d="M397.4 769.7 L397.4 779.7 M400.0 771.0 L400.0 780.9"/>
<path class="l" d="M406.8 774.7 L406.8 784.4 M409.4 776.0 L409.4 785.6"/>
<path class="w" d="M300 708.5 l3 -1.5 l2.5 1.2 l0 8 l-3 1.5 l-2.5 -1.2 Z"/>
<path class="l" d="M302.5 709.7 l0 8"/>
<path class="w" d="M323 719.5 l3 -1.5 l2.5 1.2 l0 8 l-3 1.5 l-2.5 -1.2 Z"/>
<path class="l" d="M325.5 720.7 l0 8"/>
<path class="w" d="M344 730.5 l3 -1.5 l2.5 1.2 l0 8 l-3 1.5 l-2.5 -1.2 Z"/>
<path class="l" d="M346.5 731.7 l0 8"/>
<path class="w" d="M366 740.5 l3 -1.5 l2.5 1.2 l0 8 l-3 1.5 l-2.5 -1.2 Z"/>
<path class="l" d="M368.5 741.7 l0 8"/>
<path class="w" d="M388 751.5 l3 -1.5 l2.5 1.2 l0 8 l-3 1.5 l-2.5 -1.2 Z"/>
<path class="l" d="M390.5 752.7 l0 8"/>
<path class="w" d="M404 759.5 l3 -1.5 l2.5 1.2 l0 8 l-3 1.5 l-2.5 -1.2 Z"/>
<path class="l" d="M406.5 760.7 l0 8"/>
<path class="k" d="M319 727 L326 716.5 L329 718 L326 731 M356 746 L362 735 L365 736.5 L363 750 M392 764 L397 755 L400 756.5 L398 768" stroke-width="1.4"/>
<path class="l" d="M322 727.5 L327.5 719 M359 746.5 L363.5 738 M394.5 764.5 L398.5 757.5"/>
<path class="k" d="M308 722 L314 725 L318 723 M334 737 L340 740 L344 738 M347 743 L353 746 M372 756 L378 759 L382 757 M384 762 L389 764.5" stroke-width="1.5"/>
<path class="l" d="M310 716 L310 722 M336 729 L336 737 M350 736 L350 744 M374 748 L374 756 M381 752 L381 757"/>
<path class="k" d="M304 715.5 l0 5.5 l4.5 2.3 l0 -5.5" stroke-width="1.4"/>
<path class="k" d="M313 720 l0 5.5 l4.5 2.3 l0 -5.5" stroke-width="1.4"/>
<path class="k" d="M329 728 l0 5.5 l4.5 2.3 l0 -5.5" stroke-width="1.4"/>
<path class="k" d="M338 732.5 l0 5.5 l4.5 2.3 l0 -5.5" stroke-width="1.4"/>
<path class="k" d="M349 738 l0 5.5 l4.5 2.3 l0 -5.5" stroke-width="1.4"/>
<path class="k" d="M358 742.5 l0 5.5 l4.5 2.3 l0 -5.5" stroke-width="1.4"/>
<path class="k" d="M370 748.5 l0 5.5 l4.5 2.3 l0 -5.5" stroke-width="1.4"/>
<path class="k" d="M379 753 l0 5.5 l4.5 2.3 l0 -5.5" stroke-width="1.4"/>
<path class="k" d="M394 760.5 l0 5.5 l4.5 2.3 l0 -5.5" stroke-width="1.4"/>
<path class="l" d="M411 773 L411 786 M416 770.5 L416 784 M421 768 L421 781.5 M425 766.5 L425.5 779"/>
<circle class="l" cx="418" cy="765.5" r="1.3"/></g>
<path class="k" d="M559.5 711.5 L561.5 713 M560.5 712.2 L570.5 707.8"/>
<path class="c" d="M706.2 761.5 L706.2 768.5"/>
<g transform="translate(520.80 697.30) scale(1.1400 1.1350) translate(-251.00 -728.00)"><path class="w" d="M261 721 Q255 722 251 728 L252 740 Q300 775 368 802 L390 794 L389 783 L368 788 Q320 770 266 737 Q262 728 261 721 Z"/>
<path class="k" d="M251.5 729 Q300 762 368 788 L389 783" stroke-width="2"/>
<path class="t" d="M253 732.5 Q300 765 368 791 L389.5 786"/>
<path class="l" d="M368 788 L368 802 M261 721 Q262 728 266 737 Q320 770 352 779"/>
<path class="t" d="M372 787 L374 800 M381 785.5 L381.5 789"/>
<ellipse class="t" cx="270.5" cy="737" rx="2.2" ry="1.1"/><ellipse class="t" cx="353" cy="779" rx="2.2" ry="1.1"/></g>
<path class="c" d="M666.4 779.5 L666.4 787"/>
<g transform="translate(561.10 781.60) scale(1.1330 1.1150) translate(-286.80 -803.00)"><path class="w" d="M286.8 804 Q287 799.5 291 798 L297 795.5 L307 804.4 L345.7 824.6 L404 854.7 L413 852 L425.6 849.3 L426.5 856 L423.9 985 L406 988.5 Q389 983 355 967.5 Q335 956 293 928.4 Q287 880 285.8 808 Z" stroke="none"/>
<path class="l" d="M298 788 L299.5 792.5 L303.5 794.5 L303.5 791 M302 790.5 L307 792.5 L308.5 796 L308.5 805 M299.5 792.5 L299.5 798 M305 794 L305 802.5"/>
<path class="k" d="M286.8 804 Q287 799.5 291 798 L297 795.5 L307 804.4 L345.7 824.6 L404 854.7" stroke-width="1.7"/>
<path class="t" d="M290 801.5 L297 798.5 L304 805"/>
<path class="k" d="M289.5 802.4 Q286.2 802.6 287.6 805.4 L307.0 814.7 L325.0 824.6 L343.0 835.0 L370.0 848.6 L404.0 864.6" stroke-width="2.4"/>
<path class="l" d="M289.5 805.7 Q286.2 805.9 287.6 808.7 L307.0 818.0 L325.0 827.9 L343.0 838.3 L370.0 851.9 L404.0 867.9"/>
<path class="l" d="M404 864.6 L413 861.4 L425.6 859.2"/>
<path class="l" d="M404 868.0 L413 865.2 L425.6 863.4"/>
<path class="t" d="M404.5 868.2 L409 872.0 L425.8 868.0"/>
<path class="t" d="M351 829.5 L343.5 835.5"/>
<path class="t" d="M290.5 802.0 L294 799.0"/>
<path class="k" d="M289.5 812.7 Q286.2 812.9 287.6 815.7 L307.0 825.0 L325.0 834.9 L343.0 845.3 L370.0 858.9 L404.0 874.5" stroke-width="2.4"/>
<path class="l" d="M289.5 816.0 Q286.2 816.2 287.6 819.0 L307.0 828.3 L325.0 838.2 L343.0 848.6 L370.0 862.2 L404.0 877.8"/>
<path class="l" d="M404 874.5 L413 871.3 L425.6 869.1"/>
<path class="l" d="M404 877.9 L413 875.1 L425.6 873.3"/>
<path class="t" d="M404.5 878.1 L409 881.9 L425.8 877.9"/>
<path class="t" d="M351 839.8 L343.5 845.8"/>
<path class="t" d="M290.5 812.3 L294 809.3"/>
<path class="k" d="M289.5 823.0 Q286.2 823.2 287.6 826.0 L307.0 835.3 L325.0 845.2 L343.0 855.6 L370.0 869.2 L404.0 884.4" stroke-width="2.4"/>
<path class="l" d="M289.5 826.3 Q286.2 826.5 287.6 829.3 L307.0 838.6 L325.0 848.5 L343.0 858.9 L370.0 872.5 L404.0 887.7"/>
<path class="l" d="M404 884.4 L413 881.2 L425.6 879.0"/>
<path class="l" d="M404 887.8 L413 885.0 L425.6 883.2"/>
<path class="t" d="M404.5 888.0 L409 891.8 L425.8 887.8"/>
<path class="t" d="M351 850.1 L343.5 856.1"/>
<path class="t" d="M290.5 822.6 L294 819.6"/>
<path class="k" d="M289.5 833.3 Q286.2 833.5 287.6 836.3 L307.0 845.6 L325.0 855.5 L343.0 865.9 L370.0 879.5 L404.0 894.3" stroke-width="2.4"/>
<path class="l" d="M289.5 836.6 Q286.2 836.8 287.6 839.6 L307.0 848.9 L325.0 858.8 L343.0 869.2 L370.0 882.8 L404.0 897.6"/>
<path class="l" d="M404 894.3 L413 891.1 L425.6 888.9"/>
<path class="l" d="M404 897.7 L413 894.9 L425.6 893.1"/>
<path class="t" d="M404.5 897.9 L409 901.7 L425.8 897.7"/>
<path class="t" d="M351 860.4 L343.5 866.4"/>
<path class="t" d="M290.5 832.9 L294 829.9"/>
<path class="k" d="M289.5 843.6 Q286.2 843.8 287.6 846.6 L307.0 855.9 L325.0 865.8 L343.0 876.2 L370.0 889.8 L404.0 904.2" stroke-width="2.4"/>
<path class="l" d="M289.5 846.9 Q286.2 847.1 287.6 849.9 L307.0 859.2 L325.0 869.1 L343.0 879.5 L370.0 893.1 L404.0 907.5"/>
<path class="l" d="M404 904.2 L413 901.0 L425.6 898.8"/>
<path class="l" d="M404 907.6 L413 904.8 L425.6 903.0"/>
<path class="t" d="M404.5 907.8 L409 911.6 L425.8 907.6"/>
<path class="t" d="M351 870.7 L343.5 876.7"/>
<path class="t" d="M290.5 843.2 L294 840.2"/>
<path class="l" d="M404 854.7 L413 851.7 L425.6 849.3"/>
<path class="t" d="M404.5 856.7 L409 860.7 L425.8 857.2"/>
<path class="w" d="M347.5 825.5 Q348 821.5 351 821.5 Q354.5 822 354.5 829"/>
<path class="l" d="M286.8 804 L286 812 Q287 880 293 928.4 Q335 956 355 967.5 Q389 983 406 988.5 L423.9 985"/>
<path class="t" d="M289.5 856 Q290.5 900 296 930"/>
<path class="l" d="M425.7 846.5 L426.5 856 L423.9 985 M413 852 L413.5 847.5 L425.7 844"/>
<path class="l" d="M402.6 908 L406.9 988 M411 909.7 L416.2 987" stroke-width="0.9"/>
<path class="t" d="M402.6 908 L411 909.7 L425.8 904.6"/>
<path class="k" d="M288.7 876.6 Q321 895 355 914.8 Q380 926 402.6 932.7" stroke-width="1.5"/>

<circle cx="303.4" cy="896" r="2.7" fill="none" stroke="#222" stroke-width="1.5"/>
<path d="M305.5 898.3 L316 903 L316 906.5 L305.5 901.8 Z" fill="#333"/>
<ellipse class="t" cx="377" cy="934.5" rx="3" ry="1.3" transform="rotate(22 377 934.5)"/></g>
<path class="c" d="M548 851.3 L560.5 851.3"/>
<!-- p_90_labels -->
<circle class="b" cx="233.9" cy="186" r="7"/>
<text class="bt" x="233.9" y="188.9" font-size="8.6" textLength="9.2" lengthAdjust="spacingAndGlyphs">90</text>
<circle class="b" cx="259.8" cy="175.5" r="7"/>
<text class="bt" x="259.8" y="178.4" font-size="8.6" textLength="9.2" lengthAdjust="spacingAndGlyphs">50</text>
<circle class="b" cx="300" cy="151.8" r="7"/>
<text class="bt" x="300" y="154.7" font-size="8.6" textLength="9.2" lengthAdjust="spacingAndGlyphs">20</text>
<circle class="b" cx="267" cy="246.5" r="7"/>
<text class="bt" x="267" y="249.4" font-size="7.8" textLength="12.2" lengthAdjust="spacingAndGlyphs">180</text>
<circle class="b" cx="560" cy="239.3" r="7"/>
<text class="bt" x="560" y="242.2" font-size="7.8" textLength="12.2" lengthAdjust="spacingAndGlyphs">160</text>
<circle class="b" cx="567.5" cy="351.2" r="7"/>
<text class="bt" x="567.5" y="354.1" font-size="7.8" textLength="12.2" lengthAdjust="spacingAndGlyphs">190</text>
<circle class="b" cx="595.5" cy="405.8" r="7"/>
<text class="bt" x="595.5" y="408.7" font-size="7.8" textLength="12.2" lengthAdjust="spacingAndGlyphs">180</text>
<circle class="b" cx="566.1" cy="458.3" r="7"/>
<text class="bt" x="566.1" y="461.2" font-size="7.8" textLength="12.2" lengthAdjust="spacingAndGlyphs">200</text>
<circle class="b" cx="565.4" cy="470.9" r="7"/>
<text class="bt" x="565.4" y="473.8" font-size="7.8" textLength="12.2" lengthAdjust="spacingAndGlyphs">210</text>
<circle class="b" cx="567.4" cy="492.2" r="7"/>
<text class="bt" x="567.4" y="495.1" font-size="7.8" textLength="12.2" lengthAdjust="spacingAndGlyphs">290</text>
<circle class="b" cx="558.1" cy="521.5" r="7"/>
<text class="bt" x="558.1" y="524.4" font-size="7.8" textLength="12.2" lengthAdjust="spacingAndGlyphs">560</text>
<circle class="b" cx="249.7" cy="365.7" r="7"/>
<text class="bt" x="249.7" y="368.6" font-size="7.8" textLength="12.2" lengthAdjust="spacingAndGlyphs">150</text>
<circle class="b" cx="189" cy="397.2" r="7"/>
<text class="bt" x="189" y="400.1" font-size="7.8" textLength="12.2" lengthAdjust="spacingAndGlyphs">130</text>
<circle class="b" cx="225.7" cy="403.2" r="7"/>
<text class="bt" x="225.7" y="406.1" font-size="7.8" textLength="12.2" lengthAdjust="spacingAndGlyphs">180</text>
<circle class="b" cx="245.2" cy="431.7" r="7"/>
<text class="bt" x="245.2" y="434.6" font-size="7.8" textLength="12.2" lengthAdjust="spacingAndGlyphs">310</text>
<circle class="b" cx="264.7" cy="439.2" r="7"/>
<text class="bt" x="264.7" y="442.1" font-size="7.8" textLength="12.2" lengthAdjust="spacingAndGlyphs">300</text>
<circle class="b" cx="182.2" cy="461.7" r="7"/>
<text class="bt" x="182.2" y="464.6" font-size="7.8" textLength="12.2" lengthAdjust="spacingAndGlyphs">140</text>
<circle class="b" cx="450.7" cy="422.3" r="7"/>
<text class="bt" x="450.7" y="425.2" font-size="7.8" textLength="12.2" lengthAdjust="spacingAndGlyphs">290</text>
<circle class="b" cx="471" cy="472.7" r="7"/>
<text class="bt" x="471" y="475.6" font-size="7.8" textLength="12.2" lengthAdjust="spacingAndGlyphs">230</text>
<circle class="b" cx="419.2" cy="504.9" r="7"/>
<text class="bt" x="419.2" y="507.8" font-size="7.8" textLength="12.2" lengthAdjust="spacingAndGlyphs">300</text>
<circle class="b" cx="765.3" cy="365.6" r="7"/>
<text class="bt" x="765.3" y="368.5" font-size="7.8" textLength="12.2" lengthAdjust="spacingAndGlyphs">330</text>
<circle class="b" cx="772.5" cy="391.2" r="7"/>
<text class="bt" x="772.5" y="394.1" font-size="7.8" textLength="12.2" lengthAdjust="spacingAndGlyphs">340</text>
<circle class="b" cx="797.4" cy="418.7" r="7"/>
<text class="bt" x="797.4" y="421.6" font-size="7.8" textLength="12.2" lengthAdjust="spacingAndGlyphs">320</text>
<circle class="b" cx="655.7" cy="443" r="7"/>
<text class="bt" x="655.7" y="445.9" font-size="7.8" textLength="12.2" lengthAdjust="spacingAndGlyphs">350</text>
<circle class="b" cx="346.4" cy="580" r="7"/>
<text class="bt" x="346.4" y="582.9" font-size="7.8" textLength="12.2" lengthAdjust="spacingAndGlyphs">440</text>
<circle class="b" cx="290.6" cy="606" r="7"/>
<text class="bt" x="290.6" y="608.9" font-size="7.8" textLength="12.2" lengthAdjust="spacingAndGlyphs">430</text>
<circle class="b" cx="270" cy="619" r="7"/>
<text class="bt" x="270" y="621.9" font-size="7.8" textLength="12.2" lengthAdjust="spacingAndGlyphs">450</text>
<circle class="b" cx="346.4" cy="625.6" r="7"/>
<text class="bt" x="346.4" y="628.5" font-size="7.8" textLength="12.2" lengthAdjust="spacingAndGlyphs">430</text>
<circle class="b" cx="367" cy="649.6" r="7"/>
<text class="bt" x="367" y="652.5" font-size="7.8" textLength="12.2" lengthAdjust="spacingAndGlyphs">430</text>
<circle class="b" cx="348" cy="708" r="7"/>
<text class="bt" x="348" y="710.9" font-size="7.8" textLength="12.2" lengthAdjust="spacingAndGlyphs">460</text>
<circle class="b" cx="360.5" cy="718.3" r="7"/>
<text class="bt" x="360.5" y="721.2" font-size="7.8" textLength="12.2" lengthAdjust="spacingAndGlyphs">470</text>
<circle class="b" cx="379.4" cy="814" r="7"/>
<text class="bt" x="379.4" y="816.9" font-size="7.8" textLength="12.2" lengthAdjust="spacingAndGlyphs">530</text>
<circle class="b" cx="269" cy="866" r="7"/>
<text class="bt" x="269" y="868.9" font-size="7.8" textLength="12.2" lengthAdjust="spacingAndGlyphs">540</text>
<circle class="b" cx="629.5" cy="567.3" r="7"/>
<text class="bt" x="629.5" y="570.2" font-size="7.8" textLength="12.2" lengthAdjust="spacingAndGlyphs">560</text>
<circle class="b" cx="568.1" cy="599.3" r="7"/>
<text class="bt" x="568.1" y="602.2" font-size="7.8" textLength="12.2" lengthAdjust="spacingAndGlyphs">550</text>
<circle class="b" cx="544.2" cy="613.6" r="7"/>
<text class="bt" x="544.2" y="616.5" font-size="7.8" textLength="12.2" lengthAdjust="spacingAndGlyphs">570</text>
<circle class="b" cx="629.5" cy="618" r="7"/>
<text class="bt" x="629.5" y="620.9" font-size="7.8" textLength="12.2" lengthAdjust="spacingAndGlyphs">550</text>
<circle class="b" cx="652.9" cy="647.9" r="7"/>
<text class="bt" x="652.9" y="650.8" font-size="7.8" textLength="12.2" lengthAdjust="spacingAndGlyphs">550</text>
<circle class="b" cx="722.5" cy="586.5" r="7"/>
<text class="bt" x="722.5" y="589.4" font-size="7.8" textLength="12.2" lengthAdjust="spacingAndGlyphs">590</text>
<circle class="b" cx="722.5" cy="600.5" r="7"/>
<text class="bt" x="722.5" y="603.4" font-size="7.8" textLength="12.2" lengthAdjust="spacingAndGlyphs">600</text>
<circle class="b" cx="722.5" cy="616" r="7"/>
<text class="bt" x="722.5" y="618.9" font-size="7.8" textLength="12.2" lengthAdjust="spacingAndGlyphs">580</text>
<circle class="b" cx="666.4" cy="793.5" r="7"/>
<text class="bt" x="666.4" y="796.4" font-size="7.8" textLength="12.2" lengthAdjust="spacingAndGlyphs">620</text>
<circle class="b" cx="541.6" cy="851.3" r="7"/>
<text class="bt" x="541.6" y="854.2" font-size="7.8" textLength="12.2" lengthAdjust="spacingAndGlyphs">630</text>
<text class="n" x="201.7" y="53.6">10</text>
<text class="n" x="246.8" y="175">60</text>
<text class="n" x="251" y="216.3">220</text>
<text class="n" x="555.5" y="203.2">170</text>
<text class="n" x="456.4" y="334">120</text>
<text class="n" x="478.6" y="350.8">110</text>
<text class="n" x="432.5" y="418.3">280</text>
<text class="n" x="400.3" y="500.9">280</text>
<text class="n" x="667.5" y="36.2">400</text>
<text class="n" x="626.4" y="106.2">380</text>
<text class="n" x="799" y="112.8">390</text>
<text class="n" x="675" y="227">380</text>
<text class="n" x="713" y="235">380</text>
<text class="n" x="689" y="295.1">420</text>
<text class="n" x="432.6" y="564.7">500</text>
<text class="n" x="435.7" y="595.6">490</text>
<text class="n" x="452.7" y="709.3">510</text>
<text class="n" x="452.7" y="731.8">480</text>
<text class="n" x="414" y="799.2">520</text>
<text class="n" x="705.4" y="776.6">610</text>
</svg>
</body></html>
